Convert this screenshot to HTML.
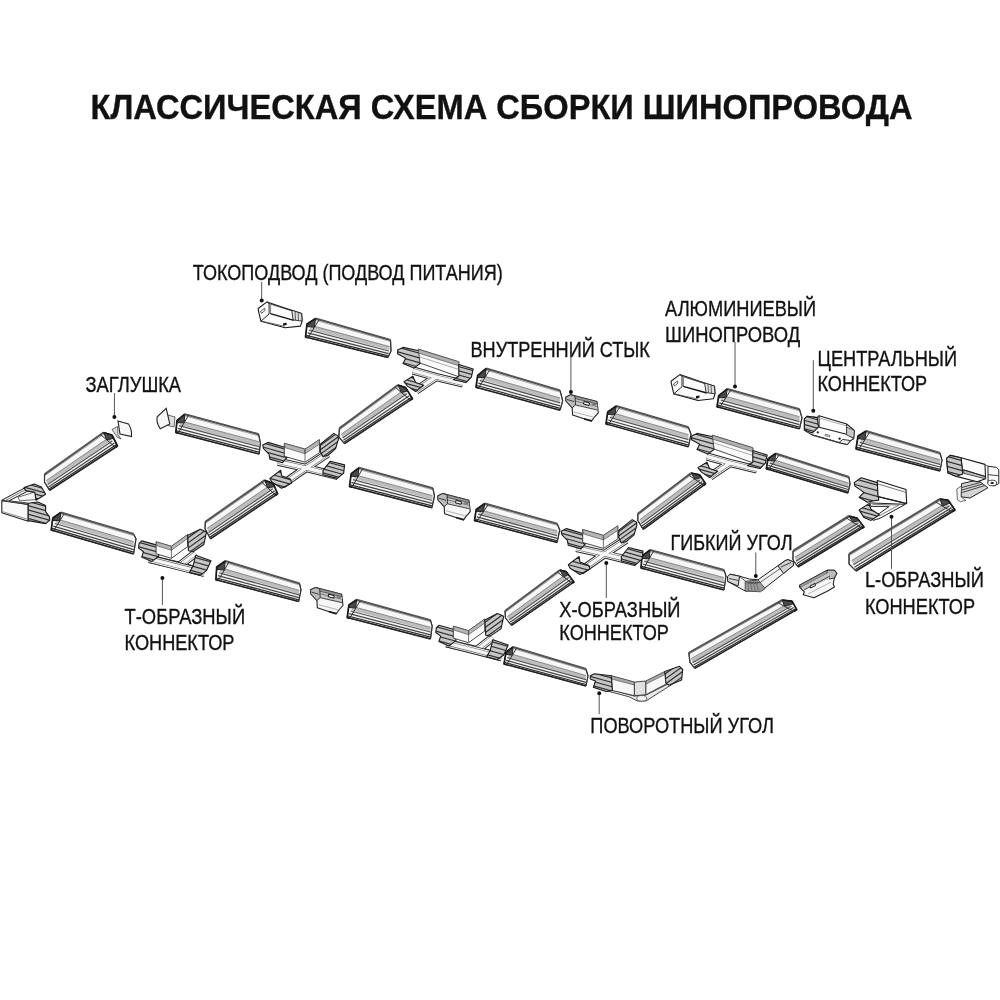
<!DOCTYPE html>
<html><head><meta charset="utf-8"><style>
html,body{margin:0;padding:0;background:#fff;}
svg{display:block;filter:grayscale(1);}
text{font-family:"Liberation Sans", sans-serif;fill:#111;stroke:#111;stroke-width:0.35px;}
</style></head><body>
<svg width="1000" height="1000" viewBox="0 0 1000 1000">
<rect width="1000" height="1000" fill="#fff"/>
<text x="90.5" y="118.5" textLength="822" lengthAdjust="spacingAndGlyphs" font-size="35" font-weight="bold">КЛАССИЧЕСКАЯ СХЕМА СБОРКИ ШИНОПРОВОДА</text>
<text x="192.8" y="279.7" textLength="310.0" lengthAdjust="spacingAndGlyphs" font-size="22.5" font-weight="normal">ТОКОПОДВОД (ПОДВОД ПИТАНИЯ)</text>
<text x="470.5" y="357.4" textLength="179.4" lengthAdjust="spacingAndGlyphs" font-size="22.5" font-weight="normal">ВНУТРЕННИЙ СТЫК</text>
<text x="665.1" y="315.9" textLength="151.0" lengthAdjust="spacingAndGlyphs" font-size="22.5" font-weight="normal">АЛЮМИНИЕВЫЙ</text>
<text x="665.1" y="341.9" textLength="135.0" lengthAdjust="spacingAndGlyphs" font-size="22.5" font-weight="normal">ШИНОПРОВОД</text>
<text x="817.5" y="365.7" textLength="139.5" lengthAdjust="spacingAndGlyphs" font-size="22.5" font-weight="normal">ЦЕНТРАЛЬНЫЙ</text>
<text x="817.5" y="391.2" textLength="109.7" lengthAdjust="spacingAndGlyphs" font-size="22.5" font-weight="normal">КОННЕКТОР</text>
<text x="85.5" y="392.3" textLength="95.6" lengthAdjust="spacingAndGlyphs" font-size="22.5" font-weight="normal">ЗАГЛУШКА</text>
<text x="124.5" y="624.3000000000001" textLength="120.6" lengthAdjust="spacingAndGlyphs" font-size="22.5" font-weight="normal">Т-ОБРАЗНЫЙ</text>
<text x="124.5" y="650.3000000000001" textLength="110.0" lengthAdjust="spacingAndGlyphs" font-size="22.5" font-weight="normal">КОННЕКТОР</text>
<text x="670.5" y="549.7" textLength="122.0" lengthAdjust="spacingAndGlyphs" font-size="22.5" font-weight="normal">ГИБКИЙ УГОЛ</text>
<text x="559.3" y="616.9000000000001" textLength="121.2" lengthAdjust="spacingAndGlyphs" font-size="22.5" font-weight="normal">Х-ОБРАЗНЫЙ</text>
<text x="559.3" y="640.3000000000001" textLength="109.6" lengthAdjust="spacingAndGlyphs" font-size="22.5" font-weight="normal">КОННЕКТОР</text>
<text x="864.9" y="587.1" textLength="119.0" lengthAdjust="spacingAndGlyphs" font-size="22.5" font-weight="normal">L-ОБРАЗНЫЙ</text>
<text x="864.9" y="613.5" textLength="110.2" lengthAdjust="spacingAndGlyphs" font-size="22.5" font-weight="normal">КОННЕКТОР</text>
<text x="590.3" y="733.1" textLength="183.6" lengthAdjust="spacingAndGlyphs" font-size="22.5" font-weight="normal">ПОВОРОТНЫЙ УГОЛ</text>
<polygon points="315.5,318.5 390.5,340.0 391.0,351.0 388.0,357.5 305.5,337.0 307.0,324.0" fill="#f7f7f7" stroke="#444" stroke-width="0.9" stroke-linejoin="round" />
<polygon points="311.7,325.5 389.6,346.6 389.1,350.1 309.7,329.2" fill="#bdbdbd" stroke="none" stroke-width="0" stroke-linejoin="round" />
<polyline points="311.7,325.5 389.6,346.6" fill="none" stroke="#777" stroke-width="0.8" stroke-linejoin="round"/>
<polyline points="309.2,330.2 388.9,351.0" fill="none" stroke="#555" stroke-width="1.25" stroke-linejoin="round"/>
<polyline points="307.7,332.9 388.6,353.6" fill="none" stroke="#444" stroke-width="1.25" stroke-linejoin="round"/>
<polyline points="306.4,335.3 388.2,355.9" fill="none" stroke="#2a2a2a" stroke-width="1.25" stroke-linejoin="round"/>
<polyline points="314.7,320.0 390.3,341.4" fill="none" stroke="#aaa" stroke-width="1.0" stroke-linejoin="round"/>
<polyline points="315.5,318.5 390.5,340.0" fill="none" stroke="#555" stroke-width="2.1" stroke-linejoin="round"/>
<polyline points="305.5,337.0 388.0,357.5" fill="none" stroke="#222" stroke-width="1.5" stroke-linejoin="round"/>
<polygon points="315.5,318.5 310.4,321.8 306.7,326.6 314.5,327.2" fill="#4a4a4a" stroke="#222" stroke-width="1.0" stroke-linejoin="round" />
<polyline points="315.5,318.5 307.0,324.0 305.5,337.0 308.0,337.6" fill="none" stroke="#1a1a1a" stroke-width="1.7" stroke-linejoin="round"/>
<polyline points="319.2,319.6 314.5,327.2 308.0,337.6" fill="none" stroke="#333" stroke-width="1.0" stroke-linejoin="round"/>
<polyline points="390.5,340.0 391.0,351.0 388.0,357.5" fill="none" stroke="#333" stroke-width="1.2" stroke-linejoin="round"/>
<polygon points="486.2,368.5 560.1,390.6 562.7,400.8 560.1,410.2 476.0,387.2 477.7,375.3" fill="#f7f7f7" stroke="#444" stroke-width="0.9" stroke-linejoin="round" />
<polygon points="482.3,375.6 560.1,398.0 560.1,402.0 480.3,379.3" fill="#bdbdbd" stroke="none" stroke-width="0" stroke-linejoin="round" />
<polyline points="482.3,375.6 560.1,398.0" fill="none" stroke="#777" stroke-width="0.8" stroke-linejoin="round"/>
<polyline points="479.8,380.3 560.1,402.9" fill="none" stroke="#555" stroke-width="1.25" stroke-linejoin="round"/>
<polyline points="478.2,383.1 560.1,405.9" fill="none" stroke="#444" stroke-width="1.25" stroke-linejoin="round"/>
<polyline points="476.9,385.5 560.1,408.4" fill="none" stroke="#2a2a2a" stroke-width="1.25" stroke-linejoin="round"/>
<polyline points="485.4,370.0 560.1,392.2" fill="none" stroke="#aaa" stroke-width="1.0" stroke-linejoin="round"/>
<polyline points="486.2,368.5 560.1,390.6" fill="none" stroke="#555" stroke-width="2.1" stroke-linejoin="round"/>
<polyline points="476.0,387.2 560.1,410.2" fill="none" stroke="#222" stroke-width="1.5" stroke-linejoin="round"/>
<polygon points="486.2,368.5 481.1,372.6 477.4,377.7 485.1,377.3" fill="#4a4a4a" stroke="#222" stroke-width="1.0" stroke-linejoin="round" />
<polyline points="486.2,368.5 477.7,375.3 476.0,387.2 478.5,387.9" fill="none" stroke="#1a1a1a" stroke-width="1.7" stroke-linejoin="round"/>
<polyline points="489.9,369.6 485.1,377.3 478.5,387.9" fill="none" stroke="#333" stroke-width="1.0" stroke-linejoin="round"/>
<polyline points="560.1,390.6 562.7,400.8 560.1,410.2" fill="none" stroke="#333" stroke-width="1.2" stroke-linejoin="round"/>
<polygon points="616.2,406.0 688.4,427.3 691.0,434.1 688.4,446.9 606.0,423.9 607.7,412.0" fill="#f7f7f7" stroke="#444" stroke-width="0.9" stroke-linejoin="round" />
<polygon points="612.3,412.8 688.4,434.7 688.4,438.7 610.3,416.4" fill="#bdbdbd" stroke="none" stroke-width="0" stroke-linejoin="round" />
<polyline points="612.3,412.8 688.4,434.7" fill="none" stroke="#777" stroke-width="0.8" stroke-linejoin="round"/>
<polyline points="609.8,417.3 688.4,439.6" fill="none" stroke="#555" stroke-width="1.25" stroke-linejoin="round"/>
<polyline points="608.2,420.0 688.4,442.6" fill="none" stroke="#444" stroke-width="1.25" stroke-linejoin="round"/>
<polyline points="606.9,422.3 688.4,445.1" fill="none" stroke="#2a2a2a" stroke-width="1.25" stroke-linejoin="round"/>
<polyline points="615.4,407.4 688.4,428.9" fill="none" stroke="#aaa" stroke-width="1.0" stroke-linejoin="round"/>
<polyline points="616.2,406.0 688.4,427.3" fill="none" stroke="#555" stroke-width="2.1" stroke-linejoin="round"/>
<polyline points="606.0,423.9 688.4,446.9" fill="none" stroke="#222" stroke-width="1.5" stroke-linejoin="round"/>
<polygon points="616.2,406.0 611.1,409.6 607.4,414.4 615.0,414.4" fill="#4a4a4a" stroke="#222" stroke-width="1.0" stroke-linejoin="round" />
<polyline points="616.2,406.0 607.7,412.0 606.0,423.9 608.5,424.6" fill="none" stroke="#1a1a1a" stroke-width="1.7" stroke-linejoin="round"/>
<polyline points="619.8,407.1 615.0,414.4 608.5,424.6" fill="none" stroke="#333" stroke-width="1.0" stroke-linejoin="round"/>
<polyline points="688.4,427.3 691.0,434.1 688.4,446.9" fill="none" stroke="#333" stroke-width="1.2" stroke-linejoin="round"/>
<polygon points="727.2,388.9 799.5,409.3 802.0,417.8 799.5,428.9 717.0,406.8 718.7,395.7" fill="#f7f7f7" stroke="#444" stroke-width="0.9" stroke-linejoin="round" />
<polygon points="723.3,395.7 799.5,416.7 799.5,420.7 721.3,399.3" fill="#bdbdbd" stroke="none" stroke-width="0" stroke-linejoin="round" />
<polyline points="723.3,395.7 799.5,416.7" fill="none" stroke="#777" stroke-width="0.8" stroke-linejoin="round"/>
<polyline points="720.8,400.2 799.5,421.6" fill="none" stroke="#555" stroke-width="1.25" stroke-linejoin="round"/>
<polyline points="719.2,402.9 799.5,424.6" fill="none" stroke="#444" stroke-width="1.25" stroke-linejoin="round"/>
<polyline points="717.9,405.2 799.5,427.1" fill="none" stroke="#2a2a2a" stroke-width="1.25" stroke-linejoin="round"/>
<polyline points="726.4,390.3 799.5,410.9" fill="none" stroke="#aaa" stroke-width="1.0" stroke-linejoin="round"/>
<polyline points="727.2,388.9 799.5,409.3" fill="none" stroke="#555" stroke-width="2.1" stroke-linejoin="round"/>
<polyline points="717.0,406.8 799.5,428.9" fill="none" stroke="#222" stroke-width="1.5" stroke-linejoin="round"/>
<polygon points="727.2,388.9 722.1,393.0 718.4,397.9 726.1,397.3" fill="#4a4a4a" stroke="#222" stroke-width="1.0" stroke-linejoin="round" />
<polyline points="727.2,388.9 718.7,395.7 717.0,406.8 719.5,407.5" fill="none" stroke="#1a1a1a" stroke-width="1.7" stroke-linejoin="round"/>
<polyline points="730.8,389.9 726.1,397.3 719.5,407.5" fill="none" stroke="#333" stroke-width="1.0" stroke-linejoin="round"/>
<polyline points="799.5,409.3 802.0,417.8 799.5,428.9" fill="none" stroke="#333" stroke-width="1.2" stroke-linejoin="round"/>
<polygon points="866.0,431.0 940.0,453.0 942.0,460.0 940.0,471.0 856.0,449.0 858.0,436.0" fill="#f7f7f7" stroke="#444" stroke-width="0.9" stroke-linejoin="round" />
<polygon points="862.2,437.8 940.0,459.8 940.0,463.4 860.2,441.4" fill="#bdbdbd" stroke="none" stroke-width="0" stroke-linejoin="round" />
<polyline points="862.2,437.8 940.0,459.8" fill="none" stroke="#777" stroke-width="0.8" stroke-linejoin="round"/>
<polyline points="859.7,442.3 940.0,464.3" fill="none" stroke="#555" stroke-width="1.25" stroke-linejoin="round"/>
<polyline points="858.2,445.0 940.0,467.0" fill="none" stroke="#444" stroke-width="1.25" stroke-linejoin="round"/>
<polyline points="856.9,447.4 940.0,469.4" fill="none" stroke="#2a2a2a" stroke-width="1.25" stroke-linejoin="round"/>
<polyline points="865.2,432.4 940.0,454.4" fill="none" stroke="#aaa" stroke-width="1.0" stroke-linejoin="round"/>
<polyline points="866.0,431.0 940.0,453.0" fill="none" stroke="#555" stroke-width="2.1" stroke-linejoin="round"/>
<polyline points="856.0,449.0 940.0,471.0" fill="none" stroke="#222" stroke-width="1.5" stroke-linejoin="round"/>
<polygon points="866.0,431.0 861.2,434.0 857.6,438.6 865.0,439.5" fill="#4a4a4a" stroke="#222" stroke-width="1.0" stroke-linejoin="round" />
<polyline points="866.0,431.0 858.0,436.0 856.0,449.0 858.5,449.7" fill="none" stroke="#1a1a1a" stroke-width="1.7" stroke-linejoin="round"/>
<polyline points="869.7,432.1 865.0,439.5 858.5,449.7" fill="none" stroke="#333" stroke-width="1.0" stroke-linejoin="round"/>
<polyline points="940.0,453.0 942.0,460.0 940.0,471.0" fill="none" stroke="#333" stroke-width="1.2" stroke-linejoin="round"/>
<polygon points="184.8,414.2 258.6,434.2 260.4,443.2 259.2,454.0 175.8,432.4 177.0,420.4" fill="#f7f7f7" stroke="#444" stroke-width="0.9" stroke-linejoin="round" />
<polygon points="181.4,421.1 258.8,441.7 258.9,445.7 179.6,424.8" fill="#bdbdbd" stroke="none" stroke-width="0" stroke-linejoin="round" />
<polyline points="181.4,421.1 258.8,441.7" fill="none" stroke="#777" stroke-width="0.8" stroke-linejoin="round"/>
<polyline points="179.1,425.7 259.0,446.7" fill="none" stroke="#555" stroke-width="1.25" stroke-linejoin="round"/>
<polyline points="177.8,428.4 259.1,449.6" fill="none" stroke="#444" stroke-width="1.25" stroke-linejoin="round"/>
<polyline points="176.6,430.8 259.1,452.2" fill="none" stroke="#2a2a2a" stroke-width="1.25" stroke-linejoin="round"/>
<polyline points="184.1,415.7 258.6,435.8" fill="none" stroke="#aaa" stroke-width="1.0" stroke-linejoin="round"/>
<polyline points="184.8,414.2 258.6,434.2" fill="none" stroke="#555" stroke-width="2.1" stroke-linejoin="round"/>
<polyline points="175.8,432.4 259.2,454.0" fill="none" stroke="#222" stroke-width="1.5" stroke-linejoin="round"/>
<polygon points="184.8,414.2 180.1,417.9 176.8,422.8 184.2,422.7" fill="#4a4a4a" stroke="#222" stroke-width="1.0" stroke-linejoin="round" />
<polyline points="184.8,414.2 177.0,420.4 175.8,432.4 178.3,433.0" fill="none" stroke="#1a1a1a" stroke-width="1.7" stroke-linejoin="round"/>
<polyline points="188.5,415.2 184.2,422.7 178.3,433.0" fill="none" stroke="#333" stroke-width="1.0" stroke-linejoin="round"/>
<polyline points="258.6,434.2 260.4,443.2 259.2,454.0" fill="none" stroke="#333" stroke-width="1.2" stroke-linejoin="round"/>
<polygon points="60.8,512.4 133.6,534.0 136.0,538.8 133.6,554.0 51.2,530.0 52.8,518.0" fill="#f7f7f7" stroke="#444" stroke-width="0.9" stroke-linejoin="round" />
<polygon points="57.2,519.1 133.6,541.6 133.6,545.6 55.2,522.6" fill="#bdbdbd" stroke="none" stroke-width="0" stroke-linejoin="round" />
<polyline points="57.2,519.1 133.6,541.6" fill="none" stroke="#777" stroke-width="0.8" stroke-linejoin="round"/>
<polyline points="54.8,523.5 133.6,546.6" fill="none" stroke="#555" stroke-width="1.25" stroke-linejoin="round"/>
<polyline points="53.3,526.1 133.6,549.6" fill="none" stroke="#444" stroke-width="1.25" stroke-linejoin="round"/>
<polyline points="52.1,528.4 133.6,552.2" fill="none" stroke="#2a2a2a" stroke-width="1.25" stroke-linejoin="round"/>
<polyline points="60.0,513.8 133.6,535.6" fill="none" stroke="#aaa" stroke-width="1.0" stroke-linejoin="round"/>
<polyline points="60.8,512.4 133.6,534.0" fill="none" stroke="#555" stroke-width="2.1" stroke-linejoin="round"/>
<polyline points="51.2,530.0 133.6,554.0" fill="none" stroke="#222" stroke-width="1.5" stroke-linejoin="round"/>
<polygon points="60.8,512.4 56.0,515.8 52.5,520.4 59.9,520.7" fill="#4a4a4a" stroke="#222" stroke-width="1.0" stroke-linejoin="round" />
<polyline points="60.8,512.4 52.8,518.0 51.2,530.0 53.7,530.7" fill="none" stroke="#1a1a1a" stroke-width="1.7" stroke-linejoin="round"/>
<polyline points="64.4,513.5 59.9,520.7 53.7,530.7" fill="none" stroke="#333" stroke-width="1.0" stroke-linejoin="round"/>
<polyline points="133.6,534.0 136.0,538.8 133.6,554.0" fill="none" stroke="#333" stroke-width="1.2" stroke-linejoin="round"/>
<polygon points="358.8,467.8 432.8,488.2 434.5,495.8 432.0,507.7 349.5,486.5 351.2,473.7" fill="#f7f7f7" stroke="#444" stroke-width="0.9" stroke-linejoin="round" />
<polygon points="355.3,474.9 432.5,495.6 432.3,499.5 353.4,478.6" fill="#bdbdbd" stroke="none" stroke-width="0" stroke-linejoin="round" />
<polyline points="355.3,474.9 432.5,495.6" fill="none" stroke="#777" stroke-width="0.8" stroke-linejoin="round"/>
<polyline points="352.9,479.6 432.3,500.5" fill="none" stroke="#555" stroke-width="1.25" stroke-linejoin="round"/>
<polyline points="351.5,482.4 432.2,503.4" fill="none" stroke="#444" stroke-width="1.25" stroke-linejoin="round"/>
<polyline points="350.3,484.8 432.1,505.9" fill="none" stroke="#2a2a2a" stroke-width="1.25" stroke-linejoin="round"/>
<polyline points="358.1,469.3 432.7,489.8" fill="none" stroke="#aaa" stroke-width="1.0" stroke-linejoin="round"/>
<polyline points="358.8,467.8 432.8,488.2" fill="none" stroke="#555" stroke-width="2.1" stroke-linejoin="round"/>
<polyline points="349.5,486.5 432.0,507.7" fill="none" stroke="#222" stroke-width="1.5" stroke-linejoin="round"/>
<polygon points="358.8,467.8 354.2,471.3 350.9,476.3 358.1,476.5" fill="#4a4a4a" stroke="#222" stroke-width="1.0" stroke-linejoin="round" />
<polyline points="358.8,467.8 351.2,473.7 349.5,486.5 352.0,487.1" fill="none" stroke="#1a1a1a" stroke-width="1.7" stroke-linejoin="round"/>
<polyline points="362.5,468.8 358.1,476.5 352.0,487.1" fill="none" stroke="#333" stroke-width="1.0" stroke-linejoin="round"/>
<polyline points="432.8,488.2 434.5,495.8 432.0,507.7" fill="none" stroke="#333" stroke-width="1.2" stroke-linejoin="round"/>
<polygon points="484.7,503.5 557.2,523.8 559.7,529.8 557.2,542.5 474.5,520.5 476.2,509.4" fill="#f7f7f7" stroke="#444" stroke-width="0.9" stroke-linejoin="round" />
<polygon points="480.8,510.0 557.2,530.9 557.2,534.6 478.8,513.4" fill="#bdbdbd" stroke="none" stroke-width="0" stroke-linejoin="round" />
<polyline points="480.8,510.0 557.2,530.9" fill="none" stroke="#777" stroke-width="0.8" stroke-linejoin="round"/>
<polyline points="478.3,514.2 557.2,535.6" fill="none" stroke="#555" stroke-width="1.25" stroke-linejoin="round"/>
<polyline points="476.7,516.8 557.2,538.4" fill="none" stroke="#444" stroke-width="1.25" stroke-linejoin="round"/>
<polyline points="475.4,519.0 557.2,540.8" fill="none" stroke="#2a2a2a" stroke-width="1.25" stroke-linejoin="round"/>
<polyline points="483.9,504.9 557.2,525.3" fill="none" stroke="#aaa" stroke-width="1.0" stroke-linejoin="round"/>
<polyline points="484.7,503.5 557.2,523.8" fill="none" stroke="#555" stroke-width="2.1" stroke-linejoin="round"/>
<polyline points="474.5,520.5 557.2,542.5" fill="none" stroke="#222" stroke-width="1.5" stroke-linejoin="round"/>
<polygon points="484.7,503.5 479.6,507.0 475.9,511.6 483.6,511.5" fill="#4a4a4a" stroke="#222" stroke-width="1.0" stroke-linejoin="round" />
<polyline points="484.7,503.5 476.2,509.4 474.5,520.5 477.0,521.2" fill="none" stroke="#1a1a1a" stroke-width="1.7" stroke-linejoin="round"/>
<polyline points="488.3,504.5 483.6,511.5 477.0,521.2" fill="none" stroke="#333" stroke-width="1.0" stroke-linejoin="round"/>
<polyline points="557.2,523.8 559.7,529.8 557.2,542.5" fill="none" stroke="#333" stroke-width="1.2" stroke-linejoin="round"/>
<polygon points="775.6,453.5 849.0,477.0 850.0,484.0 848.0,493.0 766.3,468.8 768.0,458.6" fill="#f7f7f7" stroke="#444" stroke-width="0.9" stroke-linejoin="round" />
<polygon points="772.1,459.3 848.6,483.1 848.4,486.3 770.2,462.4" fill="#bdbdbd" stroke="none" stroke-width="0" stroke-linejoin="round" />
<polyline points="772.1,459.3 848.6,483.1" fill="none" stroke="#777" stroke-width="0.8" stroke-linejoin="round"/>
<polyline points="769.7,463.1 848.4,487.1" fill="none" stroke="#555" stroke-width="1.25" stroke-linejoin="round"/>
<polyline points="768.3,465.4 848.2,489.5" fill="none" stroke="#444" stroke-width="1.25" stroke-linejoin="round"/>
<polyline points="767.1,467.4 848.1,491.6" fill="none" stroke="#2a2a2a" stroke-width="1.25" stroke-linejoin="round"/>
<polyline points="774.9,454.7 848.9,478.3" fill="none" stroke="#aaa" stroke-width="1.0" stroke-linejoin="round"/>
<polyline points="775.6,453.5 849.0,477.0" fill="none" stroke="#555" stroke-width="2.1" stroke-linejoin="round"/>
<polyline points="766.3,468.8 848.0,493.0" fill="none" stroke="#222" stroke-width="1.5" stroke-linejoin="round"/>
<polygon points="775.6,453.5 771.0,456.6 767.7,460.6 774.9,460.9" fill="#4a4a4a" stroke="#222" stroke-width="1.0" stroke-linejoin="round" />
<polyline points="775.6,453.5 768.0,458.6 766.3,468.8 768.8,469.5" fill="none" stroke="#1a1a1a" stroke-width="1.7" stroke-linejoin="round"/>
<polyline points="779.3,454.7 774.9,460.9 768.8,469.5" fill="none" stroke="#333" stroke-width="1.0" stroke-linejoin="round"/>
<polyline points="849.0,477.0 850.0,484.0 848.0,493.0" fill="none" stroke="#333" stroke-width="1.2" stroke-linejoin="round"/>
<polygon points="650.0,550.0 724.0,570.0 726.0,576.0 724.0,590.0 641.0,568.0 642.0,556.0" fill="#f7f7f7" stroke="#444" stroke-width="0.9" stroke-linejoin="round" />
<polygon points="646.6,556.8 724.0,577.6 724.0,581.6 644.8,560.4" fill="#bdbdbd" stroke="none" stroke-width="0" stroke-linejoin="round" />
<polyline points="646.6,556.8 724.0,577.6" fill="none" stroke="#777" stroke-width="0.8" stroke-linejoin="round"/>
<polyline points="644.3,561.3 724.0,582.6" fill="none" stroke="#555" stroke-width="1.25" stroke-linejoin="round"/>
<polyline points="643.0,564.0 724.0,585.6" fill="none" stroke="#444" stroke-width="1.25" stroke-linejoin="round"/>
<polyline points="641.8,566.4 724.0,588.2" fill="none" stroke="#2a2a2a" stroke-width="1.25" stroke-linejoin="round"/>
<polyline points="649.3,551.4 724.0,571.6" fill="none" stroke="#aaa" stroke-width="1.0" stroke-linejoin="round"/>
<polyline points="650.0,550.0 724.0,570.0" fill="none" stroke="#555" stroke-width="2.1" stroke-linejoin="round"/>
<polyline points="641.0,568.0 724.0,590.0" fill="none" stroke="#222" stroke-width="1.5" stroke-linejoin="round"/>
<polygon points="650.0,550.0 645.2,553.6 641.8,558.4 649.4,558.4" fill="#4a4a4a" stroke="#222" stroke-width="1.0" stroke-linejoin="round" />
<polyline points="650.0,550.0 642.0,556.0 641.0,568.0 643.5,568.7" fill="none" stroke="#1a1a1a" stroke-width="1.7" stroke-linejoin="round"/>
<polyline points="653.7,551.0 649.4,558.4 643.5,568.7" fill="none" stroke="#333" stroke-width="1.0" stroke-linejoin="round"/>
<polyline points="724.0,570.0 726.0,576.0 724.0,590.0" fill="none" stroke="#333" stroke-width="1.2" stroke-linejoin="round"/>
<polygon points="225.2,561.0 299.6,583.6 301.0,590.0 298.7,601.5 215.9,579.7 216.7,567.0" fill="#f7f7f7" stroke="#444" stroke-width="0.9" stroke-linejoin="round" />
<polygon points="221.7,568.1 299.3,590.4 299.1,594.0 219.8,571.8" fill="#bdbdbd" stroke="none" stroke-width="0" stroke-linejoin="round" />
<polyline points="221.7,568.1 299.3,590.4" fill="none" stroke="#777" stroke-width="0.8" stroke-linejoin="round"/>
<polyline points="219.3,572.8 299.0,594.9" fill="none" stroke="#555" stroke-width="1.25" stroke-linejoin="round"/>
<polyline points="217.9,575.6 298.9,597.6" fill="none" stroke="#444" stroke-width="1.25" stroke-linejoin="round"/>
<polyline points="216.7,578.0 298.8,599.9" fill="none" stroke="#2a2a2a" stroke-width="1.25" stroke-linejoin="round"/>
<polyline points="224.5,562.5 299.5,585.0" fill="none" stroke="#aaa" stroke-width="1.0" stroke-linejoin="round"/>
<polyline points="225.2,561.0 299.6,583.6" fill="none" stroke="#555" stroke-width="2.1" stroke-linejoin="round"/>
<polyline points="215.9,579.7 298.7,601.5" fill="none" stroke="#222" stroke-width="1.5" stroke-linejoin="round"/>
<polygon points="225.2,561.0 220.1,564.6 216.5,569.5 224.5,569.8" fill="#4a4a4a" stroke="#222" stroke-width="1.0" stroke-linejoin="round" />
<polyline points="225.2,561.0 216.7,567.0 215.9,579.7 218.4,580.4" fill="none" stroke="#1a1a1a" stroke-width="1.7" stroke-linejoin="round"/>
<polyline points="228.9,562.1 224.5,569.8 218.4,580.4" fill="none" stroke="#333" stroke-width="1.0" stroke-linejoin="round"/>
<polyline points="299.6,583.6 301.0,590.0 298.7,601.5" fill="none" stroke="#333" stroke-width="1.2" stroke-linejoin="round"/>
<polygon points="356.5,599.8 430.5,620.2 432.2,626.1 430.5,638.9 347.2,617.6 348.9,604.9" fill="#f7f7f7" stroke="#444" stroke-width="0.9" stroke-linejoin="round" />
<polygon points="353.0,606.6 430.5,627.3 430.5,631.0 351.1,610.1" fill="#bdbdbd" stroke="none" stroke-width="0" stroke-linejoin="round" />
<polyline points="353.0,606.6 430.5,627.3" fill="none" stroke="#777" stroke-width="0.8" stroke-linejoin="round"/>
<polyline points="350.6,611.0 430.5,632.0" fill="none" stroke="#555" stroke-width="1.25" stroke-linejoin="round"/>
<polyline points="349.2,613.7 430.5,634.8" fill="none" stroke="#444" stroke-width="1.25" stroke-linejoin="round"/>
<polyline points="348.0,616.0 430.5,637.2" fill="none" stroke="#2a2a2a" stroke-width="1.25" stroke-linejoin="round"/>
<polyline points="355.8,601.2 430.5,621.7" fill="none" stroke="#aaa" stroke-width="1.0" stroke-linejoin="round"/>
<polyline points="356.5,599.8 430.5,620.2" fill="none" stroke="#555" stroke-width="2.1" stroke-linejoin="round"/>
<polyline points="347.2,617.6 430.5,638.9" fill="none" stroke="#222" stroke-width="1.5" stroke-linejoin="round"/>
<polygon points="356.5,599.8 351.9,602.9 348.6,607.4 355.8,608.1" fill="#4a4a4a" stroke="#222" stroke-width="1.0" stroke-linejoin="round" />
<polyline points="356.5,599.8 348.9,604.9 347.2,617.6 349.7,618.2" fill="none" stroke="#1a1a1a" stroke-width="1.7" stroke-linejoin="round"/>
<polyline points="360.2,600.8 355.8,608.1 349.7,618.2" fill="none" stroke="#333" stroke-width="1.0" stroke-linejoin="round"/>
<polyline points="430.5,620.2 432.2,626.1 430.5,638.9" fill="none" stroke="#333" stroke-width="1.2" stroke-linejoin="round"/>
<polygon points="513.0,647.0 586.0,669.0 588.0,676.0 586.0,686.0 504.0,664.0 506.0,652.0" fill="#f7f7f7" stroke="#444" stroke-width="0.9" stroke-linejoin="round" />
<polygon points="509.6,653.5 586.0,675.5 586.0,678.9 507.8,656.9" fill="#bdbdbd" stroke="none" stroke-width="0" stroke-linejoin="round" />
<polyline points="509.6,653.5 586.0,675.5" fill="none" stroke="#777" stroke-width="0.8" stroke-linejoin="round"/>
<polyline points="507.3,657.7 586.0,679.7" fill="none" stroke="#555" stroke-width="1.25" stroke-linejoin="round"/>
<polyline points="506.0,660.3 586.0,682.3" fill="none" stroke="#444" stroke-width="1.25" stroke-linejoin="round"/>
<polyline points="504.8,662.5 586.0,684.5" fill="none" stroke="#2a2a2a" stroke-width="1.25" stroke-linejoin="round"/>
<polyline points="512.3,648.4 586.0,670.4" fill="none" stroke="#aaa" stroke-width="1.0" stroke-linejoin="round"/>
<polyline points="513.0,647.0 586.0,669.0" fill="none" stroke="#555" stroke-width="2.1" stroke-linejoin="round"/>
<polyline points="504.0,664.0 586.0,686.0" fill="none" stroke="#222" stroke-width="1.5" stroke-linejoin="round"/>
<polygon points="513.0,647.0 508.8,650.0 505.6,654.4 512.4,655.1" fill="#4a4a4a" stroke="#222" stroke-width="1.0" stroke-linejoin="round" />
<polyline points="513.0,647.0 506.0,652.0 504.0,664.0 506.5,664.7" fill="none" stroke="#1a1a1a" stroke-width="1.7" stroke-linejoin="round"/>
<polyline points="516.6,648.1 512.4,655.1 506.5,664.7" fill="none" stroke="#333" stroke-width="1.0" stroke-linejoin="round"/>
<polyline points="586.0,669.0 588.0,676.0 586.0,686.0" fill="none" stroke="#333" stroke-width="1.2" stroke-linejoin="round"/>
<polygon points="44.5,474.4 103.5,432.5 112.0,435.0 117.5,446.0 49.6,490.4 44.5,482.0" fill="#f7f7f7" stroke="#444" stroke-width="0.9" stroke-linejoin="round" />
<polygon points="46.4,480.5 108.8,437.6 111.6,440.3 47.5,483.7" fill="#bdbdbd" stroke="none" stroke-width="0" stroke-linejoin="round" />
<polyline points="46.4,480.5 108.8,437.6" fill="none" stroke="#777" stroke-width="0.8" stroke-linejoin="round"/>
<polyline points="47.7,484.5 112.3,441.0" fill="none" stroke="#555" stroke-width="1.25" stroke-linejoin="round"/>
<polyline points="48.5,486.9 114.4,443.0" fill="none" stroke="#444" stroke-width="1.25" stroke-linejoin="round"/>
<polyline points="49.1,489.0 116.2,444.8" fill="none" stroke="#2a2a2a" stroke-width="1.25" stroke-linejoin="round"/>
<polyline points="44.9,475.7 104.6,433.6" fill="none" stroke="#aaa" stroke-width="1.0" stroke-linejoin="round"/>
<polyline points="44.5,474.4 103.5,432.5" fill="none" stroke="#555" stroke-width="2.1" stroke-linejoin="round"/>
<polyline points="49.6,490.4 117.5,446.0" fill="none" stroke="#222" stroke-width="1.5" stroke-linejoin="round"/>
<polygon points="103.5,432.5 112.0,435.0 113.7,438.3 106.8,439.9" fill="#4a4a4a" stroke="#222" stroke-width="1.0" stroke-linejoin="round" />
<polyline points="103.5,432.5 112.0,435.0 117.5,446.0 115.5,447.3" fill="none" stroke="#1a1a1a" stroke-width="1.7" stroke-linejoin="round"/>
<polyline points="100.5,434.6 106.8,439.9 115.5,447.3" fill="none" stroke="#333" stroke-width="1.0" stroke-linejoin="round"/>
<polyline points="44.5,474.4 44.5,482.0 49.6,490.4" fill="none" stroke="#333" stroke-width="1.2" stroke-linejoin="round"/>
<polygon points="339.4,428.4 398.0,385.0 405.7,387.6 412.5,398.7 344.5,443.7 338.8,437.0" fill="#f7f7f7" stroke="#444" stroke-width="0.9" stroke-linejoin="round" />
<polygon points="341.3,434.2 403.5,390.2 406.4,392.9 342.4,437.3" fill="#bdbdbd" stroke="none" stroke-width="0" stroke-linejoin="round" />
<polyline points="341.3,434.2 403.5,390.2" fill="none" stroke="#777" stroke-width="0.8" stroke-linejoin="round"/>
<polyline points="342.6,438.0 407.1,393.6" fill="none" stroke="#555" stroke-width="1.25" stroke-linejoin="round"/>
<polyline points="343.4,440.3 409.3,395.7" fill="none" stroke="#444" stroke-width="1.25" stroke-linejoin="round"/>
<polyline points="344.0,442.3 411.2,397.5" fill="none" stroke="#2a2a2a" stroke-width="1.25" stroke-linejoin="round"/>
<polyline points="339.8,429.6 399.2,386.1" fill="none" stroke="#aaa" stroke-width="1.0" stroke-linejoin="round"/>
<polyline points="339.4,428.4 398.0,385.0" fill="none" stroke="#555" stroke-width="2.1" stroke-linejoin="round"/>
<polyline points="344.5,443.7 412.5,398.7" fill="none" stroke="#222" stroke-width="1.5" stroke-linejoin="round"/>
<polygon points="398.0,385.0 405.7,387.6 407.7,390.9 401.5,392.6" fill="#4a4a4a" stroke="#222" stroke-width="1.0" stroke-linejoin="round" />
<polyline points="398.0,385.0 405.7,387.6 412.5,398.7 410.5,400.1" fill="none" stroke="#1a1a1a" stroke-width="1.7" stroke-linejoin="round"/>
<polyline points="395.1,387.2 401.5,392.6 410.5,400.1" fill="none" stroke="#333" stroke-width="1.0" stroke-linejoin="round"/>
<polyline points="339.4,428.4 338.8,437.0 344.5,443.7" fill="none" stroke="#333" stroke-width="1.2" stroke-linejoin="round"/>
<polygon points="205.3,521.8 264.8,480.2 273.3,483.6 277.6,493.8 210.4,538.8 205.0,528.6" fill="#f7f7f7" stroke="#444" stroke-width="0.9" stroke-linejoin="round" />
<polygon points="207.2,528.3 269.7,485.4 272.2,488.1 208.3,531.7" fill="#bdbdbd" stroke="none" stroke-width="0" stroke-linejoin="round" />
<polyline points="207.2,528.3 269.7,485.4" fill="none" stroke="#777" stroke-width="0.8" stroke-linejoin="round"/>
<polyline points="208.5,532.5 272.9,488.8" fill="none" stroke="#555" stroke-width="1.25" stroke-linejoin="round"/>
<polyline points="209.3,535.1 274.8,490.8" fill="none" stroke="#444" stroke-width="1.25" stroke-linejoin="round"/>
<polyline points="209.9,537.3 276.4,492.6" fill="none" stroke="#2a2a2a" stroke-width="1.25" stroke-linejoin="round"/>
<polyline points="205.7,523.2 265.8,481.3" fill="none" stroke="#aaa" stroke-width="1.0" stroke-linejoin="round"/>
<polyline points="205.3,521.8 264.8,480.2" fill="none" stroke="#555" stroke-width="2.1" stroke-linejoin="round"/>
<polyline points="210.4,538.8 277.6,493.8" fill="none" stroke="#222" stroke-width="1.5" stroke-linejoin="round"/>
<polygon points="264.8,480.2 273.3,483.6 274.6,486.7 267.6,487.7" fill="#4a4a4a" stroke="#222" stroke-width="1.0" stroke-linejoin="round" />
<polyline points="264.8,480.2 273.3,483.6 277.6,493.8 275.6,495.2" fill="none" stroke="#1a1a1a" stroke-width="1.7" stroke-linejoin="round"/>
<polyline points="261.8,482.3 267.6,487.7 275.6,495.2" fill="none" stroke="#333" stroke-width="1.0" stroke-linejoin="round"/>
<polyline points="205.3,521.8 205.0,528.6 210.4,538.8" fill="none" stroke="#333" stroke-width="1.2" stroke-linejoin="round"/>
<polygon points="505.0,611.0 560.0,570.0 566.0,571.5 574.0,582.0 511.5,625.5 505.5,618.0" fill="#f7f7f7" stroke="#444" stroke-width="0.9" stroke-linejoin="round" />
<polygon points="507.5,616.5 565.3,574.6 568.1,577.0 508.8,619.4" fill="#bdbdbd" stroke="none" stroke-width="0" stroke-linejoin="round" />
<polyline points="507.5,616.5 565.3,574.6" fill="none" stroke="#777" stroke-width="0.8" stroke-linejoin="round"/>
<polyline points="509.1,620.1 568.8,577.6" fill="none" stroke="#555" stroke-width="1.25" stroke-linejoin="round"/>
<polyline points="510.1,622.3 570.9,579.4" fill="none" stroke="#444" stroke-width="1.25" stroke-linejoin="round"/>
<polyline points="510.9,624.2 572.7,580.9" fill="none" stroke="#2a2a2a" stroke-width="1.25" stroke-linejoin="round"/>
<polyline points="505.5,612.2 561.1,571.0" fill="none" stroke="#aaa" stroke-width="1.0" stroke-linejoin="round"/>
<polyline points="505.0,611.0 560.0,570.0" fill="none" stroke="#555" stroke-width="2.1" stroke-linejoin="round"/>
<polyline points="511.5,625.5 574.0,582.0" fill="none" stroke="#222" stroke-width="1.5" stroke-linejoin="round"/>
<polygon points="560.0,570.0 566.0,571.5 568.4,574.6 563.5,576.8" fill="#4a4a4a" stroke="#222" stroke-width="1.0" stroke-linejoin="round" />
<polyline points="560.0,570.0 566.0,571.5 574.0,582.0 572.1,583.3" fill="none" stroke="#1a1a1a" stroke-width="1.7" stroke-linejoin="round"/>
<polyline points="557.2,572.0 563.5,576.8 572.1,583.3" fill="none" stroke="#333" stroke-width="1.0" stroke-linejoin="round"/>
<polyline points="505.0,611.0 505.5,618.0 511.5,625.5" fill="none" stroke="#333" stroke-width="1.2" stroke-linejoin="round"/>
<polygon points="637.8,513.8 691.2,473.0 699.6,474.8 705.6,483.8 643.2,529.4 637.8,520.4" fill="#f7f7f7" stroke="#444" stroke-width="0.9" stroke-linejoin="round" />
<polygon points="639.9,519.7 696.7,477.1 699.6,479.3 640.9,522.8" fill="#bdbdbd" stroke="none" stroke-width="0" stroke-linejoin="round" />
<polyline points="639.9,519.7 696.7,477.1" fill="none" stroke="#777" stroke-width="0.8" stroke-linejoin="round"/>
<polyline points="641.2,523.6 700.3,479.8" fill="none" stroke="#555" stroke-width="1.25" stroke-linejoin="round"/>
<polyline points="642.0,526.0 702.4,481.4" fill="none" stroke="#444" stroke-width="1.25" stroke-linejoin="round"/>
<polyline points="642.7,528.0 704.3,482.8" fill="none" stroke="#2a2a2a" stroke-width="1.25" stroke-linejoin="round"/>
<polyline points="638.2,515.0 692.4,473.9" fill="none" stroke="#aaa" stroke-width="1.0" stroke-linejoin="round"/>
<polyline points="637.8,513.8 691.2,473.0" fill="none" stroke="#555" stroke-width="2.1" stroke-linejoin="round"/>
<polyline points="643.2,529.4 705.6,483.8" fill="none" stroke="#222" stroke-width="1.5" stroke-linejoin="round"/>
<polygon points="691.2,473.0 699.6,474.8 701.4,477.5 694.9,479.3" fill="#4a4a4a" stroke="#222" stroke-width="1.0" stroke-linejoin="round" />
<polyline points="691.2,473.0 699.6,474.8 705.6,483.8 703.7,485.2" fill="none" stroke="#1a1a1a" stroke-width="1.7" stroke-linejoin="round"/>
<polyline points="688.5,475.0 694.9,479.3 703.7,485.2" fill="none" stroke="#333" stroke-width="1.0" stroke-linejoin="round"/>
<polyline points="637.8,513.8 637.8,520.4 643.2,529.4" fill="none" stroke="#333" stroke-width="1.2" stroke-linejoin="round"/>
<polygon points="793.0,551.0 849.0,516.0 857.0,518.0 864.0,527.0 798.0,567.0 793.0,560.0" fill="#f7f7f7" stroke="#444" stroke-width="0.9" stroke-linejoin="round" />
<polygon points="794.9,557.1 854.7,520.2 857.7,522.4 795.9,560.3" fill="#bdbdbd" stroke="none" stroke-width="0" stroke-linejoin="round" />
<polyline points="794.9,557.1 854.7,520.2" fill="none" stroke="#777" stroke-width="0.8" stroke-linejoin="round"/>
<polyline points="796.1,561.1 858.5,522.9" fill="none" stroke="#555" stroke-width="1.25" stroke-linejoin="round"/>
<polyline points="796.9,563.5 860.7,524.6" fill="none" stroke="#444" stroke-width="1.25" stroke-linejoin="round"/>
<polyline points="797.5,565.6 862.6,526.0" fill="none" stroke="#2a2a2a" stroke-width="1.25" stroke-linejoin="round"/>
<polyline points="793.4,552.3 850.2,516.9" fill="none" stroke="#aaa" stroke-width="1.0" stroke-linejoin="round"/>
<polyline points="793.0,551.0 849.0,516.0" fill="none" stroke="#555" stroke-width="2.1" stroke-linejoin="round"/>
<polyline points="798.0,567.0 864.0,527.0" fill="none" stroke="#222" stroke-width="1.5" stroke-linejoin="round"/>
<polygon points="849.0,516.0 857.0,518.0 859.1,520.7 852.8,522.1" fill="#4a4a4a" stroke="#222" stroke-width="1.0" stroke-linejoin="round" />
<polyline points="849.0,516.0 857.0,518.0 864.0,527.0 862.0,528.2" fill="none" stroke="#1a1a1a" stroke-width="1.7" stroke-linejoin="round"/>
<polyline points="846.2,517.8 852.8,522.1 862.0,528.2" fill="none" stroke="#333" stroke-width="1.0" stroke-linejoin="round"/>
<polyline points="793.0,551.0 793.0,560.0 798.0,567.0" fill="none" stroke="#333" stroke-width="1.2" stroke-linejoin="round"/>
<polygon points="849.0,554.0 940.0,499.0 948.0,500.0 955.0,510.0 856.0,571.0 849.0,564.0" fill="#f7f7f7" stroke="#444" stroke-width="0.9" stroke-linejoin="round" />
<polygon points="851.7,560.5 945.7,503.2 948.7,505.4 853.1,563.9" fill="#bdbdbd" stroke="none" stroke-width="0" stroke-linejoin="round" />
<polyline points="851.7,560.5 945.7,503.2" fill="none" stroke="#777" stroke-width="0.8" stroke-linejoin="round"/>
<polyline points="853.4,564.7 949.5,505.9" fill="none" stroke="#555" stroke-width="1.25" stroke-linejoin="round"/>
<polyline points="854.5,567.3 951.7,507.6" fill="none" stroke="#444" stroke-width="1.25" stroke-linejoin="round"/>
<polyline points="855.4,569.5 953.6,509.0" fill="none" stroke="#2a2a2a" stroke-width="1.25" stroke-linejoin="round"/>
<polyline points="849.6,555.4 941.2,499.9" fill="none" stroke="#aaa" stroke-width="1.0" stroke-linejoin="round"/>
<polyline points="849.0,554.0 940.0,499.0" fill="none" stroke="#555" stroke-width="2.1" stroke-linejoin="round"/>
<polyline points="856.0,571.0 955.0,510.0" fill="none" stroke="#222" stroke-width="1.5" stroke-linejoin="round"/>
<polygon points="940.0,499.0 948.0,500.0 950.1,503.0 942.4,506.0" fill="#4a4a4a" stroke="#222" stroke-width="1.0" stroke-linejoin="round" />
<polyline points="940.0,499.0 948.0,500.0 955.0,510.0 952.0,511.8" fill="none" stroke="#1a1a1a" stroke-width="1.7" stroke-linejoin="round"/>
<polyline points="935.5,501.8 942.4,506.0 952.0,511.8" fill="none" stroke="#333" stroke-width="1.0" stroke-linejoin="round"/>
<polyline points="849.0,554.0 849.0,564.0 856.0,571.0" fill="none" stroke="#333" stroke-width="1.2" stroke-linejoin="round"/>
<polygon points="688.8,652.8 782.4,600.0 792.0,601.2 796.8,609.6 694.8,668.4 690.0,662.4" fill="#f7f7f7" stroke="#444" stroke-width="0.9" stroke-linejoin="round" />
<polygon points="691.1,658.7 787.9,603.6 790.8,605.6 692.3,661.8" fill="#bdbdbd" stroke="none" stroke-width="0" stroke-linejoin="round" />
<polyline points="691.1,658.7 787.9,603.6" fill="none" stroke="#777" stroke-width="0.8" stroke-linejoin="round"/>
<polyline points="692.6,662.6 791.5,606.0" fill="none" stroke="#555" stroke-width="1.25" stroke-linejoin="round"/>
<polyline points="693.5,665.0 793.6,607.5" fill="none" stroke="#444" stroke-width="1.25" stroke-linejoin="round"/>
<polyline points="694.3,667.0 795.5,608.7" fill="none" stroke="#2a2a2a" stroke-width="1.25" stroke-linejoin="round"/>
<polyline points="689.3,654.0 783.6,600.8" fill="none" stroke="#aaa" stroke-width="1.0" stroke-linejoin="round"/>
<polyline points="688.8,652.8 782.4,600.0" fill="none" stroke="#555" stroke-width="2.1" stroke-linejoin="round"/>
<polyline points="694.8,668.4 796.8,609.6" fill="none" stroke="#222" stroke-width="1.5" stroke-linejoin="round"/>
<polygon points="782.4,600.0 792.0,601.2 793.4,603.7 784.4,606.3" fill="#4a4a4a" stroke="#222" stroke-width="1.0" stroke-linejoin="round" />
<polyline points="782.4,600.0 792.0,601.2 796.8,609.6 793.7,611.4" fill="none" stroke="#1a1a1a" stroke-width="1.7" stroke-linejoin="round"/>
<polyline points="777.7,602.6 784.4,606.3 793.7,611.4" fill="none" stroke="#333" stroke-width="1.0" stroke-linejoin="round"/>
<polyline points="688.8,652.8 690.0,662.4 694.8,668.4" fill="none" stroke="#333" stroke-width="1.2" stroke-linejoin="round"/>
<path d="M306.0,468.0 L278.0,461.6 M306.0,468.0 L338.0,476.0 M306.0,468.0 L327.6,453.6 M306.0,468.0 L282.0,484.8" stroke="#2a2a2a" stroke-width="8.4" stroke-linecap="butt" fill="none"/>
<path d="M306.0,468.0 L278.0,461.6 M306.0,468.0 L338.0,476.0 M306.0,468.0 L327.6,453.6 M306.0,468.0 L282.0,484.8" stroke="#fbfbfb" stroke-width="6.4" stroke-linecap="butt" fill="none"/>
<path d="M306.0,468.0 L278.0,461.6 M306.0,468.0 L338.0,476.0 M306.0,468.0 L327.6,453.6 M306.0,468.0 L282.0,484.8" stroke="#666" stroke-width="4.6" stroke-linecap="butt" fill="none"/>
<path d="M306.0,468.0 L278.0,461.6 M306.0,468.0 L338.0,476.0 M306.0,468.0 L327.6,453.6 M306.0,468.0 L282.0,484.8" stroke="#f6f6f6" stroke-width="3.4" stroke-linecap="butt" fill="none"/>
<clipPath id="c1"><polygon points="262.7,445.1 268.1,442.4 286.1,447.8 287.0,457.7 282.5,462.7 269.9,459.1 269.0,454.1 263.6,448.7"/></clipPath>
<polygon points="262.7,445.1 268.1,442.4 286.1,447.8 287.0,457.7 282.5,462.7 269.9,459.1 269.0,454.1 263.6,448.7" fill="#c6c6c6" stroke="none" stroke-width="0" stroke-linejoin="round" />
<g clip-path="url(#c1)"><line x1="236.7" y1="435.6" x2="313.7" y2="457.2" stroke="#2e2e2e" stroke-width="1.15"/><line x1="235.7" y1="439.4" x2="312.7" y2="461.0" stroke="#2e2e2e" stroke-width="1.15"/><line x1="234.6" y1="443.2" x2="311.6" y2="464.8" stroke="#2e2e2e" stroke-width="1.15"/><line x1="233.5" y1="447.0" x2="310.6" y2="468.5" stroke="#2e2e2e" stroke-width="1.15"/></g>
<polygon points="262.7,445.1 268.1,442.4 286.1,447.8 287.0,457.7 282.5,462.7 269.9,459.1 269.0,454.1 263.6,448.7" fill="none" stroke="#1a1a1a" stroke-width="1.1" stroke-linejoin="round" />
<polygon points="284.3,443.3 305.0,449.2 319.4,439.7 319.4,452.7 305.0,462.2 284.3,456.3" fill="#fafafa" stroke="#333" stroke-width="0.9" stroke-linejoin="round" />
<polygon points="284.3,443.3 305.0,449.2 305.0,453.7 285.3,447.8" fill="#b5b5b5" stroke="#444" stroke-width="0.6" stroke-linejoin="round" />
<polygon points="305.0,449.2 319.4,439.7 319.4,444.2 305.0,453.7" fill="#b5b5b5" stroke="#444" stroke-width="0.6" stroke-linejoin="round" />
<polyline points="305.0,449.2 305.0,462.2" fill="none" stroke="#555" stroke-width="0.8" stroke-linejoin="round"/>
<clipPath id="c2"><polygon points="320.3,444.2 333.8,433.4 338.3,436.1 338.3,439.7 335.6,448.7 328.4,455.0 323.0,456.8 320.3,451.4"/></clipPath>
<polygon points="320.3,444.2 333.8,433.4 338.3,436.1 338.3,439.7 335.6,448.7 328.4,455.0 323.0,456.8 320.3,451.4" fill="#c6c6c6" stroke="none" stroke-width="0" stroke-linejoin="round" />
<g clip-path="url(#c2)"><line x1="293.9" y1="464.3" x2="358.8" y2="417.6" stroke="#2e2e2e" stroke-width="1.15"/><line x1="296.0" y1="467.3" x2="360.9" y2="420.5" stroke="#2e2e2e" stroke-width="1.15"/><line x1="298.1" y1="470.2" x2="363.0" y2="423.4" stroke="#2e2e2e" stroke-width="1.15"/><line x1="300.2" y1="473.1" x2="365.1" y2="426.3" stroke="#2e2e2e" stroke-width="1.15"/></g>
<polygon points="320.3,444.2 333.8,433.4 338.3,436.1 338.3,439.7 335.6,448.7 328.4,455.0 323.0,456.8 320.3,451.4" fill="none" stroke="#1a1a1a" stroke-width="1.1" stroke-linejoin="round" />
<clipPath id="c3"><polygon points="330.2,461.3 344.6,464.9 343.7,473.0 337.4,478.4 323.0,474.8 323.0,470.3"/></clipPath>
<polygon points="330.2,461.3 344.6,464.9 343.7,473.0 337.4,478.4 323.0,474.8 323.0,470.3" fill="#c6c6c6" stroke="none" stroke-width="0" stroke-linejoin="round" />
<g clip-path="url(#c3)"><line x1="296.9" y1="453.5" x2="373.9" y2="475.1" stroke="#2e2e2e" stroke-width="1.15"/><line x1="295.8" y1="457.2" x2="372.9" y2="478.8" stroke="#2e2e2e" stroke-width="1.15"/><line x1="294.8" y1="460.9" x2="371.8" y2="482.5" stroke="#2e2e2e" stroke-width="1.15"/><line x1="293.7" y1="464.6" x2="370.8" y2="486.2" stroke="#2e2e2e" stroke-width="1.15"/></g>
<polygon points="330.2,461.3 344.6,464.9 343.7,473.0 337.4,478.4 323.0,474.8 323.0,470.3" fill="none" stroke="#1a1a1a" stroke-width="1.1" stroke-linejoin="round" />
<clipPath id="c4"><polygon points="269.9,478.4 280.7,470.3 281.6,475.7 290.6,479.3 291.5,482.9 281.6,488.3 271.7,482.0"/></clipPath>
<polygon points="269.9,478.4 280.7,470.3 281.6,475.7 290.6,479.3 291.5,482.9 281.6,488.3 271.7,482.0" fill="#c6c6c6" stroke="none" stroke-width="0" stroke-linejoin="round" />
<g clip-path="url(#c4)"><line x1="244.4" y1="462.3" x2="321.4" y2="483.9" stroke="#2e2e2e" stroke-width="1.15"/><line x1="243.2" y1="466.5" x2="320.3" y2="488.0" stroke="#2e2e2e" stroke-width="1.15"/><line x1="242.1" y1="470.6" x2="319.1" y2="492.1" stroke="#2e2e2e" stroke-width="1.15"/><line x1="240.9" y1="474.7" x2="317.9" y2="496.3" stroke="#2e2e2e" stroke-width="1.15"/></g>
<polygon points="269.9,478.4 280.7,470.3 281.6,475.7 290.6,479.3 291.5,482.9 281.6,488.3 271.7,482.0" fill="none" stroke="#1a1a1a" stroke-width="1.1" stroke-linejoin="round" />
<path d="M604.4,554.2 L576.4,547.8 M604.4,554.2 L636.4,562.2 M604.4,554.2 L626.0,539.8 M604.4,554.2 L580.4,571.0" stroke="#2a2a2a" stroke-width="8.4" stroke-linecap="butt" fill="none"/>
<path d="M604.4,554.2 L576.4,547.8 M604.4,554.2 L636.4,562.2 M604.4,554.2 L626.0,539.8 M604.4,554.2 L580.4,571.0" stroke="#fbfbfb" stroke-width="6.4" stroke-linecap="butt" fill="none"/>
<path d="M604.4,554.2 L576.4,547.8 M604.4,554.2 L636.4,562.2 M604.4,554.2 L626.0,539.8 M604.4,554.2 L580.4,571.0" stroke="#666" stroke-width="4.6" stroke-linecap="butt" fill="none"/>
<path d="M604.4,554.2 L576.4,547.8 M604.4,554.2 L636.4,562.2 M604.4,554.2 L626.0,539.8 M604.4,554.2 L580.4,571.0" stroke="#f6f6f6" stroke-width="3.4" stroke-linecap="butt" fill="none"/>
<clipPath id="c5"><polygon points="561.1,531.3 566.5,528.6 584.5,534.0 585.4,543.9 580.9,548.9 568.3,545.3 567.4,540.3 562.0,534.9"/></clipPath>
<polygon points="561.1,531.3 566.5,528.6 584.5,534.0 585.4,543.9 580.9,548.9 568.3,545.3 567.4,540.3 562.0,534.9" fill="#c6c6c6" stroke="none" stroke-width="0" stroke-linejoin="round" />
<g clip-path="url(#c5)"><line x1="535.1" y1="521.8" x2="612.1" y2="543.4" stroke="#2e2e2e" stroke-width="1.15"/><line x1="534.1" y1="525.6" x2="611.1" y2="547.2" stroke="#2e2e2e" stroke-width="1.15"/><line x1="533.0" y1="529.4" x2="610.0" y2="551.0" stroke="#2e2e2e" stroke-width="1.15"/><line x1="531.9" y1="533.2" x2="609.0" y2="554.7" stroke="#2e2e2e" stroke-width="1.15"/></g>
<polygon points="561.1,531.3 566.5,528.6 584.5,534.0 585.4,543.9 580.9,548.9 568.3,545.3 567.4,540.3 562.0,534.9" fill="none" stroke="#1a1a1a" stroke-width="1.1" stroke-linejoin="round" />
<polygon points="582.7,529.5 603.4,535.4 617.8,525.9 617.8,538.9 603.4,548.4 582.7,542.5" fill="#fafafa" stroke="#333" stroke-width="0.9" stroke-linejoin="round" />
<polygon points="582.7,529.5 603.4,535.4 603.4,539.9 583.7,534.0" fill="#b5b5b5" stroke="#444" stroke-width="0.6" stroke-linejoin="round" />
<polygon points="603.4,535.4 617.8,525.9 617.8,530.4 603.4,539.9" fill="#b5b5b5" stroke="#444" stroke-width="0.6" stroke-linejoin="round" />
<polyline points="603.4,535.4 603.4,548.4" fill="none" stroke="#555" stroke-width="0.8" stroke-linejoin="round"/>
<clipPath id="c6"><polygon points="618.7,530.4 632.2,519.6 636.7,522.3 636.7,525.9 634.0,534.9 626.8,541.2 621.4,543.0 618.7,537.6"/></clipPath>
<polygon points="618.7,530.4 632.2,519.6 636.7,522.3 636.7,525.9 634.0,534.9 626.8,541.2 621.4,543.0 618.7,537.6" fill="#c6c6c6" stroke="none" stroke-width="0" stroke-linejoin="round" />
<g clip-path="url(#c6)"><line x1="592.3" y1="550.5" x2="657.2" y2="503.8" stroke="#2e2e2e" stroke-width="1.15"/><line x1="594.4" y1="553.5" x2="659.3" y2="506.7" stroke="#2e2e2e" stroke-width="1.15"/><line x1="596.5" y1="556.4" x2="661.4" y2="509.6" stroke="#2e2e2e" stroke-width="1.15"/><line x1="598.6" y1="559.3" x2="663.5" y2="512.5" stroke="#2e2e2e" stroke-width="1.15"/></g>
<polygon points="618.7,530.4 632.2,519.6 636.7,522.3 636.7,525.9 634.0,534.9 626.8,541.2 621.4,543.0 618.7,537.6" fill="none" stroke="#1a1a1a" stroke-width="1.1" stroke-linejoin="round" />
<clipPath id="c7"><polygon points="628.6,547.5 643.0,551.1 642.1,559.2 635.8,564.6 621.4,561.0 621.4,556.5"/></clipPath>
<polygon points="628.6,547.5 643.0,551.1 642.1,559.2 635.8,564.6 621.4,561.0 621.4,556.5" fill="#c6c6c6" stroke="none" stroke-width="0" stroke-linejoin="round" />
<g clip-path="url(#c7)"><line x1="595.3" y1="539.7" x2="672.3" y2="561.3" stroke="#2e2e2e" stroke-width="1.15"/><line x1="594.2" y1="543.4" x2="671.3" y2="565.0" stroke="#2e2e2e" stroke-width="1.15"/><line x1="593.2" y1="547.1" x2="670.2" y2="568.7" stroke="#2e2e2e" stroke-width="1.15"/><line x1="592.1" y1="550.8" x2="669.2" y2="572.4" stroke="#2e2e2e" stroke-width="1.15"/></g>
<polygon points="628.6,547.5 643.0,551.1 642.1,559.2 635.8,564.6 621.4,561.0 621.4,556.5" fill="none" stroke="#1a1a1a" stroke-width="1.1" stroke-linejoin="round" />
<clipPath id="c8"><polygon points="568.3,564.6 579.1,556.5 580.0,561.9 589.0,565.5 589.9,569.1 580.0,574.5 570.1,568.2"/></clipPath>
<polygon points="568.3,564.6 579.1,556.5 580.0,561.9 589.0,565.5 589.9,569.1 580.0,574.5 570.1,568.2" fill="#c6c6c6" stroke="none" stroke-width="0" stroke-linejoin="round" />
<g clip-path="url(#c8)"><line x1="542.8" y1="548.5" x2="619.8" y2="570.1" stroke="#2e2e2e" stroke-width="1.15"/><line x1="541.6" y1="552.7" x2="618.7" y2="574.2" stroke="#2e2e2e" stroke-width="1.15"/><line x1="540.5" y1="556.8" x2="617.5" y2="578.3" stroke="#2e2e2e" stroke-width="1.15"/><line x1="539.3" y1="560.9" x2="616.3" y2="582.5" stroke="#2e2e2e" stroke-width="1.15"/></g>
<polygon points="568.3,564.6 579.1,556.5 580.0,561.9 589.0,565.5 589.9,569.1 580.0,574.5 570.1,568.2" fill="none" stroke="#1a1a1a" stroke-width="1.1" stroke-linejoin="round" />
<path d="M179.4,565.8 L149.4,558.8 M179.4,565.8 L204.4,572.8 M179.4,565.8 L195.4,553.3" stroke="#2a2a2a" stroke-width="8.4" stroke-linecap="butt" fill="none"/>
<path d="M179.4,565.8 L149.4,558.8 M179.4,565.8 L204.4,572.8 M179.4,565.8 L195.4,553.3" stroke="#fbfbfb" stroke-width="6.4" stroke-linecap="butt" fill="none"/>
<path d="M179.4,565.8 L149.4,558.8 M179.4,565.8 L204.4,572.8 M179.4,565.8 L195.4,553.3" stroke="#666" stroke-width="4.6" stroke-linecap="butt" fill="none"/>
<path d="M179.4,565.8 L149.4,558.8 M179.4,565.8 L204.4,572.8 M179.4,565.8 L195.4,553.3" stroke="#f6f6f6" stroke-width="3.4" stroke-linecap="butt" fill="none"/>
<path d="M149.4,558.8 L204.4,572.8" stroke="#2a2a2a" stroke-width="8.4" stroke-linecap="butt" fill="none"/>
<path d="M149.4,558.8 L204.4,572.8" stroke="#fbfbfb" stroke-width="6.4" stroke-linecap="butt" fill="none"/>
<path d="M149.4,558.8 L204.4,572.8" stroke="#666" stroke-width="4.6" stroke-linecap="butt" fill="none"/>
<path d="M149.4,558.8 L204.4,572.8" stroke="#f6f6f6" stroke-width="3.4" stroke-linecap="butt" fill="none"/>
<clipPath id="c9"><polygon points="139.0,543.6 141.7,540.9 157.9,545.4 158.8,556.2 151.6,561.6 141.7,557.1 143.5,551.7 138.6,548.1"/></clipPath>
<polygon points="139.0,543.6 141.7,540.9 157.9,545.4 158.8,556.2 151.6,561.6 141.7,557.1 143.5,551.7 138.6,548.1" fill="#c6c6c6" stroke="none" stroke-width="0" stroke-linejoin="round" />
<g clip-path="url(#c9)"><line x1="109.7" y1="534.1" x2="186.7" y2="555.7" stroke="#2e2e2e" stroke-width="1.15"/><line x1="108.5" y1="538.3" x2="185.5" y2="559.9" stroke="#2e2e2e" stroke-width="1.15"/><line x1="107.3" y1="542.5" x2="184.4" y2="564.0" stroke="#2e2e2e" stroke-width="1.15"/><line x1="106.2" y1="546.6" x2="183.2" y2="568.2" stroke="#2e2e2e" stroke-width="1.15"/></g>
<polygon points="139.0,543.6 141.7,540.9 157.9,545.4 158.8,556.2 151.6,561.6 141.7,557.1 143.5,551.7 138.6,548.1" fill="none" stroke="#1a1a1a" stroke-width="1.1" stroke-linejoin="round" />
<polygon points="156.1,541.8 171.4,546.3 187.6,534.6 187.6,546.6 171.4,558.3 156.1,553.8" fill="#fafafa" stroke="#333" stroke-width="0.9" stroke-linejoin="round" />
<polygon points="156.1,541.8 171.4,546.3 171.4,550.3 157.1,545.8" fill="#b5b5b5" stroke="#444" stroke-width="0.6" stroke-linejoin="round" />
<polygon points="171.4,546.3 187.6,534.6 187.6,538.6 171.4,550.3" fill="#b5b5b5" stroke="#444" stroke-width="0.6" stroke-linejoin="round" />
<polyline points="171.4,546.3 171.4,558.3" fill="none" stroke="#555" stroke-width="0.8" stroke-linejoin="round"/>
<clipPath id="c10"><polygon points="187.6,535.5 200.2,529.2 206.5,531.9 203.8,544.5 193.0,551.7 188.5,550.8"/></clipPath>
<polygon points="187.6,535.5 200.2,529.2 206.5,531.9 203.8,544.5 193.0,551.7 188.5,550.8" fill="#c6c6c6" stroke="none" stroke-width="0" stroke-linejoin="round" />
<g clip-path="url(#c10)"><line x1="159.9" y1="558.0" x2="224.8" y2="511.3" stroke="#2e2e2e" stroke-width="1.15"/><line x1="162.3" y1="561.4" x2="227.2" y2="514.7" stroke="#2e2e2e" stroke-width="1.15"/><line x1="164.8" y1="564.9" x2="229.7" y2="518.1" stroke="#2e2e2e" stroke-width="1.15"/><line x1="167.2" y1="568.3" x2="232.1" y2="521.5" stroke="#2e2e2e" stroke-width="1.15"/></g>
<polygon points="187.6,535.5 200.2,529.2 206.5,531.9 203.8,544.5 193.0,551.7 188.5,550.8" fill="none" stroke="#1a1a1a" stroke-width="1.1" stroke-linejoin="round" />
<clipPath id="c11"><polygon points="195.7,555.3 211.0,560.7 206.5,570.6 200.2,575.1 189.4,572.4 193.0,566.1"/></clipPath>
<polygon points="195.7,555.3 211.0,560.7 206.5,570.6 200.2,575.1 189.4,572.4 193.0,566.1" fill="#c6c6c6" stroke="none" stroke-width="0" stroke-linejoin="round" />
<g clip-path="url(#c11)"><line x1="162.9" y1="548.5" x2="239.9" y2="570.0" stroke="#2e2e2e" stroke-width="1.15"/><line x1="161.6" y1="552.8" x2="238.7" y2="574.4" stroke="#2e2e2e" stroke-width="1.15"/><line x1="160.4" y1="557.2" x2="237.5" y2="578.8" stroke="#2e2e2e" stroke-width="1.15"/><line x1="159.2" y1="561.6" x2="236.2" y2="583.2" stroke="#2e2e2e" stroke-width="1.15"/></g>
<polygon points="195.7,555.3 211.0,560.7 206.5,570.6 200.2,575.1 189.4,572.4 193.0,566.1" fill="none" stroke="#1a1a1a" stroke-width="1.1" stroke-linejoin="round" />
<path d="M476.6,650.2 L446.6,643.2 M476.6,650.2 L501.6,657.2 M476.6,650.2 L492.6,637.7" stroke="#2a2a2a" stroke-width="8.4" stroke-linecap="butt" fill="none"/>
<path d="M476.6,650.2 L446.6,643.2 M476.6,650.2 L501.6,657.2 M476.6,650.2 L492.6,637.7" stroke="#fbfbfb" stroke-width="6.4" stroke-linecap="butt" fill="none"/>
<path d="M476.6,650.2 L446.6,643.2 M476.6,650.2 L501.6,657.2 M476.6,650.2 L492.6,637.7" stroke="#666" stroke-width="4.6" stroke-linecap="butt" fill="none"/>
<path d="M476.6,650.2 L446.6,643.2 M476.6,650.2 L501.6,657.2 M476.6,650.2 L492.6,637.7" stroke="#f6f6f6" stroke-width="3.4" stroke-linecap="butt" fill="none"/>
<path d="M446.6,643.2 L501.6,657.2" stroke="#2a2a2a" stroke-width="8.4" stroke-linecap="butt" fill="none"/>
<path d="M446.6,643.2 L501.6,657.2" stroke="#fbfbfb" stroke-width="6.4" stroke-linecap="butt" fill="none"/>
<path d="M446.6,643.2 L501.6,657.2" stroke="#666" stroke-width="4.6" stroke-linecap="butt" fill="none"/>
<path d="M446.6,643.2 L501.6,657.2" stroke="#f6f6f6" stroke-width="3.4" stroke-linecap="butt" fill="none"/>
<clipPath id="c12"><polygon points="436.2,628.0 438.9,625.3 455.1,629.8 456.0,640.6 448.8,646.0 438.9,641.5 440.7,636.1 435.8,632.5"/></clipPath>
<polygon points="436.2,628.0 438.9,625.3 455.1,629.8 456.0,640.6 448.8,646.0 438.9,641.5 440.7,636.1 435.8,632.5" fill="#c6c6c6" stroke="none" stroke-width="0" stroke-linejoin="round" />
<g clip-path="url(#c12)"><line x1="406.9" y1="618.5" x2="483.9" y2="640.1" stroke="#2e2e2e" stroke-width="1.15"/><line x1="405.7" y1="622.7" x2="482.7" y2="644.3" stroke="#2e2e2e" stroke-width="1.15"/><line x1="404.5" y1="626.9" x2="481.6" y2="648.4" stroke="#2e2e2e" stroke-width="1.15"/><line x1="403.4" y1="631.0" x2="480.4" y2="652.6" stroke="#2e2e2e" stroke-width="1.15"/></g>
<polygon points="436.2,628.0 438.9,625.3 455.1,629.8 456.0,640.6 448.8,646.0 438.9,641.5 440.7,636.1 435.8,632.5" fill="none" stroke="#1a1a1a" stroke-width="1.1" stroke-linejoin="round" />
<polygon points="453.3,626.2 468.6,630.7 484.8,619.0 484.8,631.0 468.6,642.7 453.3,638.2" fill="#fafafa" stroke="#333" stroke-width="0.9" stroke-linejoin="round" />
<polygon points="453.3,626.2 468.6,630.7 468.6,634.7 454.3,630.2" fill="#b5b5b5" stroke="#444" stroke-width="0.6" stroke-linejoin="round" />
<polygon points="468.6,630.7 484.8,619.0 484.8,623.0 468.6,634.7" fill="#b5b5b5" stroke="#444" stroke-width="0.6" stroke-linejoin="round" />
<polyline points="468.6,630.7 468.6,642.7" fill="none" stroke="#555" stroke-width="0.8" stroke-linejoin="round"/>
<clipPath id="c13"><polygon points="484.8,619.9 497.4,613.6 503.7,616.3 501.0,628.9 490.2,636.1 485.7,635.2"/></clipPath>
<polygon points="484.8,619.9 497.4,613.6 503.7,616.3 501.0,628.9 490.2,636.1 485.7,635.2" fill="#c6c6c6" stroke="none" stroke-width="0" stroke-linejoin="round" />
<g clip-path="url(#c13)"><line x1="457.1" y1="642.4" x2="522.0" y2="595.7" stroke="#2e2e2e" stroke-width="1.15"/><line x1="459.5" y1="645.8" x2="524.4" y2="599.1" stroke="#2e2e2e" stroke-width="1.15"/><line x1="462.0" y1="649.3" x2="526.9" y2="602.5" stroke="#2e2e2e" stroke-width="1.15"/><line x1="464.4" y1="652.7" x2="529.3" y2="605.9" stroke="#2e2e2e" stroke-width="1.15"/></g>
<polygon points="484.8,619.9 497.4,613.6 503.7,616.3 501.0,628.9 490.2,636.1 485.7,635.2" fill="none" stroke="#1a1a1a" stroke-width="1.1" stroke-linejoin="round" />
<clipPath id="c14"><polygon points="492.9,639.7 508.2,645.1 503.7,655.0 497.4,659.5 486.6,656.8 490.2,650.5"/></clipPath>
<polygon points="492.9,639.7 508.2,645.1 503.7,655.0 497.4,659.5 486.6,656.8 490.2,650.5" fill="#c6c6c6" stroke="none" stroke-width="0" stroke-linejoin="round" />
<g clip-path="url(#c14)"><line x1="460.1" y1="632.9" x2="537.1" y2="654.4" stroke="#2e2e2e" stroke-width="1.15"/><line x1="458.8" y1="637.2" x2="535.9" y2="658.8" stroke="#2e2e2e" stroke-width="1.15"/><line x1="457.6" y1="641.6" x2="534.7" y2="663.2" stroke="#2e2e2e" stroke-width="1.15"/><line x1="456.4" y1="646.0" x2="533.4" y2="667.6" stroke="#2e2e2e" stroke-width="1.15"/></g>
<polygon points="492.9,639.7 508.2,645.1 503.7,655.0 497.4,659.5 486.6,656.8 490.2,650.5" fill="none" stroke="#1a1a1a" stroke-width="1.1" stroke-linejoin="round" />
<path d="M436.0,377.0 L413.0,370.5 M436.0,377.0 L463.0,383.5 M436.0,377.0 L416.0,390.5" stroke="#2a2a2a" stroke-width="8.4" stroke-linecap="butt" fill="none"/>
<path d="M436.0,377.0 L413.0,370.5 M436.0,377.0 L463.0,383.5 M436.0,377.0 L416.0,390.5" stroke="#fbfbfb" stroke-width="6.4" stroke-linecap="butt" fill="none"/>
<path d="M436.0,377.0 L413.0,370.5 M436.0,377.0 L463.0,383.5 M436.0,377.0 L416.0,390.5" stroke="#666" stroke-width="4.6" stroke-linecap="butt" fill="none"/>
<path d="M436.0,377.0 L413.0,370.5 M436.0,377.0 L463.0,383.5 M436.0,377.0 L416.0,390.5" stroke="#f6f6f6" stroke-width="3.4" stroke-linecap="butt" fill="none"/>
<clipPath id="c15"><polygon points="397.6,350.1 403.0,347.4 420.1,351.0 421.0,362.7 413.8,368.1 403.0,363.6 405.7,358.2 397.6,353.7"/></clipPath>
<polygon points="397.6,350.1 403.0,347.4 420.1,351.0 421.0,362.7 413.8,368.1 403.0,363.6 405.7,358.2 397.6,353.7" fill="#c6c6c6" stroke="none" stroke-width="0" stroke-linejoin="round" />
<g clip-path="url(#c15)"><line x1="371.0" y1="339.6" x2="448.0" y2="361.2" stroke="#2e2e2e" stroke-width="1.15"/><line x1="369.8" y1="344.0" x2="446.8" y2="365.6" stroke="#2e2e2e" stroke-width="1.15"/><line x1="368.6" y1="348.4" x2="445.6" y2="369.9" stroke="#2e2e2e" stroke-width="1.15"/><line x1="367.3" y1="352.7" x2="444.4" y2="374.3" stroke="#2e2e2e" stroke-width="1.15"/></g>
<polygon points="397.6,350.1 403.0,347.4 420.1,351.0 421.0,362.7 413.8,368.1 403.0,363.6 405.7,358.2 397.6,353.7" fill="none" stroke="#1a1a1a" stroke-width="1.1" stroke-linejoin="round" />
<polygon points="418.3,349.2 458.8,361.8 459.7,377.1 420.0,363.0" fill="#fafafa" stroke="#333" stroke-width="0.9" stroke-linejoin="round" />
<polygon points="418.3,349.2 458.8,361.8 458.8,365.8 418.8,353.2" fill="#b0b0b0" stroke="#444" stroke-width="0.6" stroke-linejoin="round" />
<polyline points="420.0,357.0 459.0,369.5" fill="none" stroke="#777" stroke-width="0.6" stroke-linejoin="round"/>
<clipPath id="c16"><polygon points="458.8,364.5 473.2,369.0 471.4,377.1 466.0,382.5 453.4,379.8 458.8,376.2"/></clipPath>
<polygon points="458.8,364.5 473.2,369.0 471.4,377.1 466.0,382.5 453.4,379.8 458.8,376.2" fill="#c6c6c6" stroke="none" stroke-width="0" stroke-linejoin="round" />
<g clip-path="url(#c16)"><line x1="426.9" y1="357.7" x2="503.9" y2="379.2" stroke="#2e2e2e" stroke-width="1.15"/><line x1="425.8" y1="361.6" x2="502.8" y2="383.1" stroke="#2e2e2e" stroke-width="1.15"/><line x1="424.7" y1="365.5" x2="501.7" y2="387.0" stroke="#2e2e2e" stroke-width="1.15"/><line x1="423.6" y1="369.4" x2="500.6" y2="390.9" stroke="#2e2e2e" stroke-width="1.15"/></g>
<polygon points="458.8,364.5 473.2,369.0 471.4,377.1 466.0,382.5 453.4,379.8 458.8,376.2" fill="none" stroke="#1a1a1a" stroke-width="1.1" stroke-linejoin="round" />
<clipPath id="c17"><polygon points="403.9,381.6 412.9,376.2 415.6,382.5 423.7,385.2 415.6,391.5 407.5,386.1"/></clipPath>
<polygon points="403.9,381.6 412.9,376.2 415.6,382.5 423.7,385.2 415.6,391.5 407.5,386.1" fill="#c6c6c6" stroke="none" stroke-width="0" stroke-linejoin="round" />
<g clip-path="url(#c17)"><line x1="376.2" y1="367.7" x2="453.2" y2="389.3" stroke="#2e2e2e" stroke-width="1.15"/><line x1="375.2" y1="371.1" x2="452.3" y2="392.7" stroke="#2e2e2e" stroke-width="1.15"/><line x1="374.3" y1="374.5" x2="451.3" y2="396.0" stroke="#2e2e2e" stroke-width="1.15"/><line x1="373.3" y1="377.8" x2="450.4" y2="399.4" stroke="#2e2e2e" stroke-width="1.15"/></g>
<polygon points="403.9,381.6 412.9,376.2 415.6,382.5 423.7,385.2 415.6,391.5 407.5,386.1" fill="none" stroke="#1a1a1a" stroke-width="1.1" stroke-linejoin="round" />
<path d="M730.0,463.0 L707.0,456.5 M730.0,463.0 L757.0,469.5 M730.0,463.0 L710.0,476.5" stroke="#2a2a2a" stroke-width="8.4" stroke-linecap="butt" fill="none"/>
<path d="M730.0,463.0 L707.0,456.5 M730.0,463.0 L757.0,469.5 M730.0,463.0 L710.0,476.5" stroke="#fbfbfb" stroke-width="6.4" stroke-linecap="butt" fill="none"/>
<path d="M730.0,463.0 L707.0,456.5 M730.0,463.0 L757.0,469.5 M730.0,463.0 L710.0,476.5" stroke="#666" stroke-width="4.6" stroke-linecap="butt" fill="none"/>
<path d="M730.0,463.0 L707.0,456.5 M730.0,463.0 L757.0,469.5 M730.0,463.0 L710.0,476.5" stroke="#f6f6f6" stroke-width="3.4" stroke-linecap="butt" fill="none"/>
<clipPath id="c18"><polygon points="691.6,436.1 697.0,433.4 714.1,437.0 715.0,448.7 707.8,454.1 697.0,449.6 699.7,444.2 691.6,439.7"/></clipPath>
<polygon points="691.6,436.1 697.0,433.4 714.1,437.0 715.0,448.7 707.8,454.1 697.0,449.6 699.7,444.2 691.6,439.7" fill="#c6c6c6" stroke="none" stroke-width="0" stroke-linejoin="round" />
<g clip-path="url(#c18)"><line x1="665.0" y1="425.6" x2="742.0" y2="447.2" stroke="#2e2e2e" stroke-width="1.15"/><line x1="663.8" y1="430.0" x2="740.8" y2="451.6" stroke="#2e2e2e" stroke-width="1.15"/><line x1="662.6" y1="434.4" x2="739.6" y2="455.9" stroke="#2e2e2e" stroke-width="1.15"/><line x1="661.3" y1="438.7" x2="738.4" y2="460.3" stroke="#2e2e2e" stroke-width="1.15"/></g>
<polygon points="691.6,436.1 697.0,433.4 714.1,437.0 715.0,448.7 707.8,454.1 697.0,449.6 699.7,444.2 691.6,439.7" fill="none" stroke="#1a1a1a" stroke-width="1.1" stroke-linejoin="round" />
<polygon points="712.3,435.2 752.8,447.8 753.7,463.1 714.0,449.0" fill="#fafafa" stroke="#333" stroke-width="0.9" stroke-linejoin="round" />
<polygon points="712.3,435.2 752.8,447.8 752.8,451.8 712.8,439.2" fill="#b0b0b0" stroke="#444" stroke-width="0.6" stroke-linejoin="round" />
<polyline points="714.0,443.0 753.0,455.5" fill="none" stroke="#777" stroke-width="0.6" stroke-linejoin="round"/>
<clipPath id="c19"><polygon points="752.8,450.5 767.2,455.0 765.4,463.1 760.0,468.5 747.4,465.8 752.8,462.2"/></clipPath>
<polygon points="752.8,450.5 767.2,455.0 765.4,463.1 760.0,468.5 747.4,465.8 752.8,462.2" fill="#c6c6c6" stroke="none" stroke-width="0" stroke-linejoin="round" />
<g clip-path="url(#c19)"><line x1="720.9" y1="443.7" x2="797.9" y2="465.2" stroke="#2e2e2e" stroke-width="1.15"/><line x1="719.8" y1="447.6" x2="796.8" y2="469.1" stroke="#2e2e2e" stroke-width="1.15"/><line x1="718.7" y1="451.5" x2="795.7" y2="473.0" stroke="#2e2e2e" stroke-width="1.15"/><line x1="717.6" y1="455.4" x2="794.6" y2="476.9" stroke="#2e2e2e" stroke-width="1.15"/></g>
<polygon points="752.8,450.5 767.2,455.0 765.4,463.1 760.0,468.5 747.4,465.8 752.8,462.2" fill="none" stroke="#1a1a1a" stroke-width="1.1" stroke-linejoin="round" />
<clipPath id="c20"><polygon points="697.9,467.6 706.9,462.2 709.6,468.5 717.7,471.2 709.6,477.5 701.5,472.1"/></clipPath>
<polygon points="697.9,467.6 706.9,462.2 709.6,468.5 717.7,471.2 709.6,477.5 701.5,472.1" fill="#c6c6c6" stroke="none" stroke-width="0" stroke-linejoin="round" />
<g clip-path="url(#c20)"><line x1="670.2" y1="453.7" x2="747.2" y2="475.3" stroke="#2e2e2e" stroke-width="1.15"/><line x1="669.2" y1="457.1" x2="746.3" y2="478.7" stroke="#2e2e2e" stroke-width="1.15"/><line x1="668.3" y1="460.5" x2="745.3" y2="482.0" stroke="#2e2e2e" stroke-width="1.15"/><line x1="667.3" y1="463.8" x2="744.4" y2="485.4" stroke="#2e2e2e" stroke-width="1.15"/></g>
<polygon points="697.9,467.6 706.9,462.2 709.6,468.5 717.7,471.2 709.6,477.5 701.5,472.1" fill="none" stroke="#1a1a1a" stroke-width="1.1" stroke-linejoin="round" />
<polygon points="258.1,308.5 267.0,301.9 291.7,310.2 301.6,313.5 302.1,321.2 300.5,326.1 285.1,327.8 260.9,321.2 258.7,311.8" fill="#fbfbfb" stroke="#1a1a1a" stroke-width="1.1" stroke-linejoin="round" />
<polyline points="267.0,301.9 269.1,303.6 269.1,314.0 260.9,321.2" fill="none" stroke="#222" stroke-width="1.0" stroke-linejoin="round"/>
<polyline points="269.1,303.6 291.7,310.8" fill="none" stroke="#333" stroke-width="0.9" stroke-linejoin="round"/>
<polygon points="269.6,304.3 271.1,304.8 271.1,313.3 269.6,313.8" fill="#888" stroke="none" stroke-width="1.0" stroke-linejoin="round" />
<polyline points="270.3,313.7 293.9,320.3" fill="none" stroke="#111" stroke-width="1.4" stroke-linejoin="round"/>
<polyline points="262.1,321.3 285.1,326.3" fill="none" stroke="#555" stroke-width="0.8" stroke-linejoin="round"/>
<polygon points="291.7,310.2 301.6,313.5 302.1,321.2 293.1,319.8" fill="#e0e0e0" stroke="#222" stroke-width="0.9" stroke-linejoin="round" />
<polyline points="295.1,311.8 295.6,320.3" fill="none" stroke="#444" stroke-width="0.8" stroke-linejoin="round"/>
<polyline points="298.1,312.8 298.6,320.8" fill="none" stroke="#444" stroke-width="0.8" stroke-linejoin="round"/>
<polygon points="260.6,311.3 264.6,308.3 265.1,310.3 261.6,313.3" fill="#fff" stroke="#333" stroke-width="0.8" stroke-linejoin="round" />
<polygon points="283.1,323.3 286.6,322.8 286.6,325.1 283.1,325.6" fill="#111" stroke="none" stroke-width="1.0" stroke-linejoin="round" />
<polygon points="671.0,381.2 679.9,374.6 704.6,382.9 714.5,386.2 715.0,393.9 713.4,398.8 698.0,400.5 673.8,393.9 671.6,384.5" fill="#fbfbfb" stroke="#1a1a1a" stroke-width="1.1" stroke-linejoin="round" />
<polyline points="679.9,374.6 682.0,376.3 682.0,386.7 673.8,393.9" fill="none" stroke="#222" stroke-width="1.0" stroke-linejoin="round"/>
<polyline points="682.0,376.3 704.6,383.5" fill="none" stroke="#333" stroke-width="0.9" stroke-linejoin="round"/>
<polygon points="682.5,377.0 684.0,377.5 684.0,386.0 682.5,386.5" fill="#888" stroke="none" stroke-width="1.0" stroke-linejoin="round" />
<polyline points="683.2,386.4 706.8,393.0" fill="none" stroke="#111" stroke-width="1.4" stroke-linejoin="round"/>
<polyline points="675.0,394.0 698.0,399.0" fill="none" stroke="#555" stroke-width="0.8" stroke-linejoin="round"/>
<polygon points="704.6,382.9 714.5,386.2 715.0,393.9 706.0,392.5" fill="#e0e0e0" stroke="#222" stroke-width="0.9" stroke-linejoin="round" />
<polyline points="708.0,384.5 708.5,393.0" fill="none" stroke="#444" stroke-width="0.8" stroke-linejoin="round"/>
<polyline points="711.0,385.5 711.5,393.5" fill="none" stroke="#444" stroke-width="0.8" stroke-linejoin="round"/>
<polygon points="673.5,384.0 677.5,381.0 678.0,383.0 674.5,386.0" fill="#fff" stroke="#333" stroke-width="0.8" stroke-linejoin="round" />
<polygon points="696.0,396.0 699.5,395.5 699.5,397.8 696.0,398.3" fill="#111" stroke="none" stroke-width="1.0" stroke-linejoin="round" />
<polygon points="565.9,397.0 570.8,394.8 596.9,401.5 597.4,405.1 598.3,412.8 594.2,417.3 591.5,421.3 572.6,415.0 572.2,407.8 565.9,401.0" fill="#f6f6f6" stroke="#222" stroke-width="1.1" stroke-linejoin="round" />
<polygon points="571.0,397.5 597.2,404.0 597.4,410.0 575.5,405.0" fill="#c8c8c8" stroke="none" stroke-width="0" stroke-linejoin="round" />
<polyline points="575.0,401.0 597.0,406.5" fill="none" stroke="#666" stroke-width="0.8" stroke-linejoin="round"/>
<polygon points="570.8,394.8 596.9,401.5 597.2,404.0 571.0,397.5" fill="#9a9a9a" stroke="#333" stroke-width="0.7" stroke-linejoin="round" />
<polygon points="565.9,397.0 570.8,394.8 575.0,396.0 575.5,405.0 572.2,407.8 565.9,401.0" fill="#bbb" stroke="#222" stroke-width="0.9" stroke-linejoin="round" />
<polyline points="567.0,399.5 574.0,401.5" fill="none" stroke="#333" stroke-width="0.9" stroke-linejoin="round"/>
<polyline points="575.5,405.0 597.4,410.0" fill="none" stroke="#333" stroke-width="0.9" stroke-linejoin="round"/>
<polygon points="584.0,401.5 589.5,403.0 589.0,405.5 583.5,404.0" fill="#fff" stroke="#111" stroke-width="1.0" stroke-linejoin="round" />
<polyline points="592.0,404.0 596.0,405.0" fill="none" stroke="#444" stroke-width="0.8" stroke-linejoin="round"/>
<polyline points="574.0,412.0 593.0,417.0" fill="none" stroke="#999" stroke-width="0.7" stroke-linejoin="round"/>
<polygon points="584.0,418.0 592.0,420.0 591.5,421.8 584.0,419.8" fill="#222" stroke="none" stroke-width="1.0" stroke-linejoin="round" />
<polygon points="310.6,589.7 315.5,587.5 341.6,594.2 342.1,597.8 343.0,605.5 338.9,610.0 336.2,614.0 317.3,607.7 316.9,600.5 310.6,593.7" fill="#f6f6f6" stroke="#222" stroke-width="1.1" stroke-linejoin="round" />
<polygon points="315.7,590.2 341.9,596.7 342.1,602.7 320.2,597.7" fill="#c8c8c8" stroke="none" stroke-width="0" stroke-linejoin="round" />
<polyline points="319.7,593.7 341.7,599.2" fill="none" stroke="#666" stroke-width="0.8" stroke-linejoin="round"/>
<polygon points="315.5,587.5 341.6,594.2 341.9,596.7 315.7,590.2" fill="#9a9a9a" stroke="#333" stroke-width="0.7" stroke-linejoin="round" />
<polygon points="310.6,589.7 315.5,587.5 319.7,588.7 320.2,597.7 316.9,600.5 310.6,593.7" fill="#bbb" stroke="#222" stroke-width="0.9" stroke-linejoin="round" />
<polyline points="311.7,592.2 318.7,594.2" fill="none" stroke="#333" stroke-width="0.9" stroke-linejoin="round"/>
<polyline points="320.2,597.7 342.1,602.7" fill="none" stroke="#333" stroke-width="0.9" stroke-linejoin="round"/>
<polygon points="328.7,594.2 334.2,595.7 333.7,598.2 328.2,596.7" fill="#fff" stroke="#111" stroke-width="1.0" stroke-linejoin="round" />
<polyline points="336.7,596.7 340.7,597.7" fill="none" stroke="#444" stroke-width="0.8" stroke-linejoin="round"/>
<polyline points="318.7,604.7 337.7,609.7" fill="none" stroke="#999" stroke-width="0.7" stroke-linejoin="round"/>
<polygon points="328.7,610.7 336.7,612.7 336.2,614.5 328.7,612.5" fill="#222" stroke="none" stroke-width="1.0" stroke-linejoin="round" />
<polygon points="437.9,495.8 442.8,493.6 468.9,500.3 469.4,503.9 470.3,511.6 466.2,516.1 463.5,520.1 444.6,513.8 444.2,506.6 437.9,499.8" fill="#f6f6f6" stroke="#222" stroke-width="1.1" stroke-linejoin="round" />
<polygon points="443.0,496.3 469.2,502.8 469.4,508.8 447.5,503.8" fill="#c8c8c8" stroke="none" stroke-width="0" stroke-linejoin="round" />
<polyline points="447.0,499.8 469.0,505.3" fill="none" stroke="#666" stroke-width="0.8" stroke-linejoin="round"/>
<polygon points="442.8,493.6 468.9,500.3 469.2,502.8 443.0,496.3" fill="#9a9a9a" stroke="#333" stroke-width="0.7" stroke-linejoin="round" />
<polygon points="437.9,495.8 442.8,493.6 447.0,494.8 447.5,503.8 444.2,506.6 437.9,499.8" fill="#bbb" stroke="#222" stroke-width="0.9" stroke-linejoin="round" />
<polyline points="439.0,498.3 446.0,500.3" fill="none" stroke="#333" stroke-width="0.9" stroke-linejoin="round"/>
<polyline points="447.5,503.8 469.4,508.8" fill="none" stroke="#333" stroke-width="0.9" stroke-linejoin="round"/>
<polygon points="456.0,500.3 461.5,501.8 461.0,504.3 455.5,502.8" fill="#fff" stroke="#111" stroke-width="1.0" stroke-linejoin="round" />
<polyline points="464.0,502.8 468.0,503.8" fill="none" stroke="#444" stroke-width="0.8" stroke-linejoin="round"/>
<polyline points="446.0,510.8 465.0,515.8" fill="none" stroke="#999" stroke-width="0.7" stroke-linejoin="round"/>
<polygon points="456.0,516.8 464.0,518.8 463.5,520.6 456.0,518.6" fill="#222" stroke="none" stroke-width="1.0" stroke-linejoin="round" />
<polygon points="799.6,585.2 827.2,570.2 834.4,570.2 836.8,573.2 834.4,578.0 833.2,584.0 834.4,587.0 827.2,591.2 814.0,597.8 803.2,594.8 804.4,591.8 799.6,587.0" fill="#f6f6f6" stroke="#222" stroke-width="1.1" stroke-linejoin="round" />
<polygon points="799.6,585.2 827.2,570.2 829.0,572.5 801.0,587.5" fill="#9a9a9a" stroke="#333" stroke-width="0.7" stroke-linejoin="round" />
<polygon points="827.2,570.2 834.4,570.2 836.8,573.2 834.4,578.0 829.0,579.0 827.0,574.0" fill="#bbb" stroke="#222" stroke-width="0.9" stroke-linejoin="round" />
<polygon points="801.0,587.5 829.0,572.5 829.0,579.0 804.0,590.0" fill="#c8c8c8" stroke="none" stroke-width="0" stroke-linejoin="round" />
<polyline points="804.0,590.0 830.0,576.0" fill="none" stroke="#333" stroke-width="0.9" stroke-linejoin="round"/>
<polygon points="810.0,586.0 815.0,583.5 815.5,585.5 810.5,588.0" fill="#fff" stroke="#111" stroke-width="1.0" stroke-linejoin="round" />
<polyline points="808.0,594.0 831.0,582.0" fill="none" stroke="#999" stroke-width="0.7" stroke-linejoin="round"/>
<polygon points="18.0,497.2 35.4,491.8 36.0,499.6 19.8,500.8" fill="#f6f6f6" stroke="#444" stroke-width="0.8" stroke-linejoin="round" />
<polygon points="1.8,500.8 28.2,504.4 28.2,521.2 1.8,512.8" fill="#f8f8f8" stroke="#222" stroke-width="1.1" stroke-linejoin="round" />
<polyline points="2.4,511.6 28.2,519.4" fill="none" stroke="#888" stroke-width="0.9" stroke-linejoin="round"/>
<polygon points="1.8,500.2 25.2,487.6 30.0,490.0 9.0,500.8 28.2,503.2 28.2,504.4" fill="#f0f0f0" stroke="#222" stroke-width="1.0" stroke-linejoin="round" />
<polyline points="5.4,500.5 26.4,489.1" fill="none" stroke="#666" stroke-width="0.8" stroke-linejoin="round"/>
<polyline points="5.4,500.5 28.2,503.7" fill="none" stroke="#666" stroke-width="0.8" stroke-linejoin="round"/>
<clipPath id="c21"><polygon points="24.0,487.6 34.2,484.0 41.4,487.0 45.6,494.2 36.0,500.2 34.8,492.4 25.8,490.6"/></clipPath>
<polygon points="24.0,487.6 34.2,484.0 41.4,487.0 45.6,494.2 36.0,500.2 34.8,492.4 25.8,490.6" fill="#c6c6c6" stroke="none" stroke-width="0" stroke-linejoin="round" />
<g clip-path="url(#c21)"><line x1="-2.7" y1="475.6" x2="74.3" y2="497.2" stroke="#2e2e2e" stroke-width="1.15"/><line x1="-3.8" y1="479.3" x2="73.3" y2="500.8" stroke="#2e2e2e" stroke-width="1.15"/><line x1="-4.8" y1="482.9" x2="72.3" y2="504.5" stroke="#2e2e2e" stroke-width="1.15"/><line x1="-5.8" y1="486.5" x2="71.2" y2="508.1" stroke="#2e2e2e" stroke-width="1.15"/></g>
<polygon points="24.0,487.6 34.2,484.0 41.4,487.0 45.6,494.2 36.0,500.2 34.8,492.4 25.8,490.6" fill="none" stroke="#1a1a1a" stroke-width="1.1" stroke-linejoin="round" />
<clipPath id="c22"><polygon points="28.2,503.2 37.8,502.0 45.6,505.6 45.6,511.6 49.2,516.4 49.8,520.0 45.6,523.6 28.2,520.6"/></clipPath>
<polygon points="28.2,503.2 37.8,502.0 45.6,505.6 45.6,511.6 49.2,516.4 49.8,520.0 45.6,523.6 28.2,520.6" fill="#c6c6c6" stroke="none" stroke-width="0" stroke-linejoin="round" />
<g clip-path="url(#c22)"><line x1="4.7" y1="494.9" x2="81.8" y2="516.4" stroke="#2e2e2e" stroke-width="1.15"/><line x1="3.6" y1="498.8" x2="80.7" y2="520.4" stroke="#2e2e2e" stroke-width="1.15"/><line x1="2.5" y1="502.8" x2="79.6" y2="524.3" stroke="#2e2e2e" stroke-width="1.15"/><line x1="1.4" y1="506.7" x2="78.5" y2="528.3" stroke="#2e2e2e" stroke-width="1.15"/><line x1="0.3" y1="510.7" x2="77.4" y2="532.2" stroke="#2e2e2e" stroke-width="1.15"/></g>
<polygon points="28.2,503.2 37.8,502.0 45.6,505.6 45.6,511.6 49.2,516.4 49.8,520.0 45.6,523.6 28.2,520.6" fill="none" stroke="#1a1a1a" stroke-width="1.1" stroke-linejoin="round" />
<polygon points="869.6,502.9 905.3,504.3 880.1,518.3 873.1,520.4 871.0,515.5 879.4,513.4 889.2,506.4 871.0,506.4" fill="#f6f6f6" stroke="#222" stroke-width="1.0" stroke-linejoin="round" />
<polyline points="872.4,504.3 899.0,505.0 878.7,516.2" fill="none" stroke="#666" stroke-width="0.8" stroke-linejoin="round"/>
<clipPath id="c23"><polygon points="854.2,482.6 861.2,477.7 877.3,482.6 878.7,500.1 873.8,500.8 867.5,502.2 859.1,497.3 864.0,492.4 854.9,486.1"/></clipPath>
<polygon points="854.2,482.6 861.2,477.7 877.3,482.6 878.7,500.1 873.8,500.8 867.5,502.2 859.1,497.3 864.0,492.4 854.9,486.1" fill="#c6c6c6" stroke="none" stroke-width="0" stroke-linejoin="round" />
<g clip-path="url(#c23)"><line x1="829.6" y1="471.7" x2="906.6" y2="493.3" stroke="#2e2e2e" stroke-width="1.15"/><line x1="828.1" y1="477.0" x2="905.1" y2="498.5" stroke="#2e2e2e" stroke-width="1.15"/><line x1="826.6" y1="482.2" x2="903.7" y2="503.8" stroke="#2e2e2e" stroke-width="1.15"/><line x1="825.2" y1="487.5" x2="902.2" y2="509.1" stroke="#2e2e2e" stroke-width="1.15"/></g>
<polygon points="854.2,482.6 861.2,477.7 877.3,482.6 878.7,500.1 873.8,500.8 867.5,502.2 859.1,497.3 864.0,492.4 854.9,486.1" fill="none" stroke="#1a1a1a" stroke-width="1.1" stroke-linejoin="round" />
<polygon points="877.3,480.5 906.0,489.6 906.7,503.6 878.0,496.6" fill="#fbfbfb" stroke="#1a1a1a" stroke-width="1.1" stroke-linejoin="round" />
<polyline points="878.0,484.0 906.0,492.4" fill="none" stroke="#555" stroke-width="0.8" stroke-linejoin="round"/>
<polyline points="878.0,496.6 906.7,503.6" fill="none" stroke="#222" stroke-width="1.0" stroke-linejoin="round"/>
<clipPath id="c24"><polygon points="859.1,509.9 868.9,503.6 871.0,509.2 879.4,514.8 871.0,520.4 864.0,517.6"/></clipPath>
<polygon points="859.1,509.9 868.9,503.6 871.0,509.2 879.4,514.8 871.0,520.4 864.0,517.6" fill="#c6c6c6" stroke="none" stroke-width="0" stroke-linejoin="round" />
<g clip-path="url(#c24)"><line x1="832.2" y1="495.3" x2="909.2" y2="516.9" stroke="#2e2e2e" stroke-width="1.15"/><line x1="831.1" y1="499.1" x2="908.2" y2="520.7" stroke="#2e2e2e" stroke-width="1.15"/><line x1="830.1" y1="502.9" x2="907.1" y2="524.4" stroke="#2e2e2e" stroke-width="1.15"/><line x1="829.0" y1="506.6" x2="906.1" y2="528.2" stroke="#2e2e2e" stroke-width="1.15"/></g>
<polygon points="859.1,509.9 868.9,503.6 871.0,509.2 879.4,514.8 871.0,520.4 864.0,517.6" fill="none" stroke="#1a1a1a" stroke-width="1.1" stroke-linejoin="round" />
<polygon points="961.6,483.6 977.8,480.0 988.0,487.8 970.0,498.0 961.0,496.8" fill="#d4d4d4" stroke="#222" stroke-width="1.0" stroke-linejoin="round" />
<polygon points="956.8,489.0 961.6,486.0 961.0,496.8 965.8,500.4 960.4,501.6 957.4,499.8" fill="#f4f4f4" stroke="#444" stroke-width="0.8" stroke-linejoin="round" />
<polyline points="961.4,487.6 980.9,482.3" fill="none" stroke="#444" stroke-width="1.0" stroke-linejoin="round"/>
<polyline points="961.3,490.2 982.9,483.9" fill="none" stroke="#444" stroke-width="1.0" stroke-linejoin="round"/>
<polyline points="961.2,492.8 984.9,485.5" fill="none" stroke="#444" stroke-width="1.0" stroke-linejoin="round"/>
<polygon points="946.6,458.4 950.2,455.4 961.0,457.8 985.0,464.4 985.6,478.8 977.2,481.8 956.2,476.4 947.8,472.8" fill="#fbfbfb" stroke="#1a1a1a" stroke-width="1.1" stroke-linejoin="round" />
<polygon points="963.4,469.8 985.0,476.4 985.3,478.8 964.0,473.4" fill="#bbb" stroke="#333" stroke-width="0.8" stroke-linejoin="round" />
<polyline points="961.0,457.8 962.8,474.0" fill="none" stroke="#222" stroke-width="1.1" stroke-linejoin="round"/>
<polyline points="963.4,469.8 985.0,476.4" fill="none" stroke="#222" stroke-width="1.0" stroke-linejoin="round"/>
<clipPath id="c25"><polygon points="946.6,458.4 950.2,455.4 961.0,457.8 962.8,474.0 956.2,476.4 947.8,472.8"/></clipPath>
<polygon points="946.6,458.4 950.2,455.4 961.0,457.8 962.8,474.0 956.2,476.4 947.8,472.8" fill="#c6c6c6" stroke="none" stroke-width="0" stroke-linejoin="round" />
<g clip-path="url(#c25)"><line x1="917.5" y1="448.1" x2="994.5" y2="469.7" stroke="#2e2e2e" stroke-width="1.15"/><line x1="916.2" y1="452.7" x2="993.3" y2="474.3" stroke="#2e2e2e" stroke-width="1.15"/><line x1="914.9" y1="457.4" x2="992.0" y2="478.9" stroke="#2e2e2e" stroke-width="1.15"/><line x1="913.6" y1="462.0" x2="990.7" y2="483.6" stroke="#2e2e2e" stroke-width="1.15"/></g>
<polygon points="946.6,458.4 950.2,455.4 961.0,457.8 962.8,474.0 956.2,476.4 947.8,472.8" fill="none" stroke="#1a1a1a" stroke-width="1.1" stroke-linejoin="round" />
<polygon points="988.0,466.2 996.4,467.4 998.8,469.8 998.8,483.6 994.0,486.0 988.0,483.6" fill="#fbfbfb" stroke="#222" stroke-width="1.0" stroke-linejoin="round" />
<polyline points="988.0,474.6 998.8,475.8" fill="none" stroke="#333" stroke-width="0.9" stroke-linejoin="round"/>
<polyline points="985.6,465.0 988.0,466.2" fill="none" stroke="#333" stroke-width="0.9" stroke-linejoin="round"/>
<ellipse cx="992.2" cy="483.0" rx="4.5" ry="2.8" fill="#fff" stroke="#333" stroke-width="0.9"/>
<ellipse cx="992.2" cy="483.0" rx="1.8" ry="1.1" fill="#111"/>
<polygon points="593.4,687.3 629.1,696.8 637.5,701.0 645.9,701.0 677.4,681.0 668.0,684.0 646.0,695.0 634.0,696.0 612.0,690.0" fill="#e8e8e8" stroke="#333" stroke-width="0.9" stroke-linejoin="round" />
<polygon points="611.3,675.8 634.4,682.1 634.4,695.7 612.3,690.5" fill="#f7f7f7" stroke="#333" stroke-width="0.9" stroke-linejoin="round" />
<polygon points="611.3,675.8 634.4,682.1 634.4,685.0 611.5,679.0" fill="#aaa" stroke="#444" stroke-width="0.6" stroke-linejoin="round" />
<polygon points="634.4,682.1 645.9,681.0 645.9,694.7 634.4,695.7" fill="#e0e0e0" stroke="#333" stroke-width="0.9" stroke-linejoin="round" />
<polygon points="645.9,681.0 664.8,671.6 668.0,683.0 645.9,694.7" fill="#f7f7f7" stroke="#333" stroke-width="0.9" stroke-linejoin="round" />
<polygon points="645.9,681.0 664.8,671.6 665.0,674.5 646.0,684.0" fill="#aaa" stroke="#444" stroke-width="0.6" stroke-linejoin="round" />
<clipPath id="c26"><polygon points="590.3,675.8 594.5,673.7 611.3,675.8 612.3,690.5 606.0,691.5 593.4,687.3 595.5,681.0 590.3,678.9"/></clipPath>
<polygon points="590.3,675.8 594.5,673.7 611.3,675.8 612.3,690.5 606.0,691.5 593.4,687.3 595.5,681.0 590.3,678.9" fill="#c6c6c6" stroke="none" stroke-width="0" stroke-linejoin="round" />
<g clip-path="url(#c26)"><line x1="562.6" y1="664.3" x2="639.6" y2="685.9" stroke="#2e2e2e" stroke-width="1.15"/><line x1="561.4" y1="668.3" x2="638.5" y2="689.9" stroke="#2e2e2e" stroke-width="1.15"/><line x1="560.3" y1="672.3" x2="637.4" y2="693.8" stroke="#2e2e2e" stroke-width="1.15"/><line x1="559.2" y1="676.3" x2="636.3" y2="697.8" stroke="#2e2e2e" stroke-width="1.15"/></g>
<polygon points="590.3,675.8 594.5,673.7 611.3,675.8 612.3,690.5 606.0,691.5 593.4,687.3 595.5,681.0 590.3,678.9" fill="none" stroke="#1a1a1a" stroke-width="1.1" stroke-linejoin="round" />
<clipPath id="c27"><polygon points="664.8,671.6 679.5,666.3 682.7,669.5 681.6,680.0 669.0,685.2 665.9,683.1"/></clipPath>
<polygon points="664.8,671.6 679.5,666.3 682.7,669.5 681.6,680.0 669.0,685.2 665.9,683.1" fill="#c6c6c6" stroke="none" stroke-width="0" stroke-linejoin="round" />
<g clip-path="url(#c27)"><line x1="637.5" y1="693.8" x2="702.4" y2="647.1" stroke="#2e2e2e" stroke-width="1.15"/><line x1="639.9" y1="697.2" x2="704.8" y2="650.5" stroke="#2e2e2e" stroke-width="1.15"/><line x1="642.4" y1="700.6" x2="707.3" y2="653.8" stroke="#2e2e2e" stroke-width="1.15"/><line x1="644.8" y1="703.9" x2="709.7" y2="657.2" stroke="#2e2e2e" stroke-width="1.15"/></g>
<polygon points="664.8,671.6 679.5,666.3 682.7,669.5 681.6,680.0 669.0,685.2 665.9,683.1" fill="none" stroke="#1a1a1a" stroke-width="1.1" stroke-linejoin="round" />
<ellipse cx="641.7" cy="698.3" rx="5" ry="2.8" fill="#f4f4f4" stroke="#444" stroke-width="0.8"/>
<polygon points="727.6,576.6 730.0,574.2 739.6,576.2 749.2,579.0 758.0,579.8 785.2,560.6 788.0,559.6 793.6,562.0 793.4,565.4 783.6,573.4 762.0,590.2 745.2,591.0 727.6,581.4" fill="#f2f2f2" stroke="#222" stroke-width="1.0" stroke-linejoin="round" />
<polygon points="745.2,581.4 758.0,579.8 765.2,588.6 760.4,591.8 745.2,591.0" fill="#9a9a9a" stroke="#333" stroke-width="0.8" stroke-linejoin="round" />
<polyline points="747.8,581.1 748.6,591.0" fill="none" stroke="#555" stroke-width="0.6" stroke-linejoin="round"/>
<polyline points="750.3,580.8 751.9,591.0" fill="none" stroke="#555" stroke-width="0.6" stroke-linejoin="round"/>
<polyline points="752.9,580.4 755.3,591.0" fill="none" stroke="#555" stroke-width="0.6" stroke-linejoin="round"/>
<polyline points="755.4,580.1 758.6,591.0" fill="none" stroke="#555" stroke-width="0.6" stroke-linejoin="round"/>
<polygon points="727.6,576.6 730.0,574.2 739.6,576.2 738.0,586.0 727.6,581.4" fill="#d8d8d8" stroke="#222" stroke-width="1.0" stroke-linejoin="round" />
<polyline points="729.0,578.5 738.5,580.5" fill="none" stroke="#333" stroke-width="0.9" stroke-linejoin="round"/>
<polygon points="778.0,566.0 785.2,560.6 788.0,559.6 793.6,562.0 793.4,565.4 783.6,573.4" fill="#d0d0d0" stroke="#222" stroke-width="1.0" stroke-linejoin="round" />
<polyline points="781.0,567.0 791.0,562.5" fill="none" stroke="#333" stroke-width="0.9" stroke-linejoin="round"/>
<polyline points="740.0,577.0 748.0,583.0 758.0,583.0" fill="none" stroke="#444" stroke-width="0.8" stroke-linejoin="round"/>
<polyline points="749.2,583.0 760.0,582.5 781.0,568.0" fill="none" stroke="#444" stroke-width="0.8" stroke-linejoin="round"/>
<polygon points="804.4,418.9 807.0,416.3 817.2,417.6 819.1,415.7 846.6,424.0 854.3,430.4 853.7,438.7 850.5,440.6 847.3,444.5 839.0,442.6 812.1,434.9 804.4,430.4" fill="#fbfbfb" stroke="#1a1a1a" stroke-width="1.1" stroke-linejoin="round" />
<clipPath id="c28"><polygon points="804.4,418.9 807.0,416.3 817.2,417.6 818.5,427.2 812.1,433.0 804.4,429.8"/></clipPath>
<polygon points="804.4,418.9 807.0,416.3 817.2,417.6 818.5,427.2 812.1,433.0 804.4,429.8" fill="#c6c6c6" stroke="none" stroke-width="0" stroke-linejoin="round" />
<g clip-path="url(#c28)"><line x1="773.6" y1="407.5" x2="850.6" y2="429.1" stroke="#2e2e2e" stroke-width="1.15"/><line x1="772.5" y1="411.4" x2="849.6" y2="433.0" stroke="#2e2e2e" stroke-width="1.15"/><line x1="771.4" y1="415.3" x2="848.5" y2="436.9" stroke="#2e2e2e" stroke-width="1.15"/><line x1="770.3" y1="419.2" x2="847.4" y2="440.7" stroke="#2e2e2e" stroke-width="1.15"/></g>
<polygon points="804.4,418.9 807.0,416.3 817.2,417.6 818.5,427.2 812.1,433.0 804.4,429.8" fill="none" stroke="#1a1a1a" stroke-width="1.1" stroke-linejoin="round" />
<polyline points="819.1,415.7 819.1,427.2" fill="none" stroke="#222" stroke-width="1.0" stroke-linejoin="round"/>
<polyline points="819.1,427.2 846.6,434.2" fill="none" stroke="#222" stroke-width="1.1" stroke-linejoin="round"/>
<polyline points="819.8,418.2 846.6,425.9" fill="none" stroke="#999" stroke-width="0.8" stroke-linejoin="round"/>
<polyline points="846.6,424.0 846.6,434.2 853.7,438.7" fill="none" stroke="#333" stroke-width="0.9" stroke-linejoin="round"/>
<polyline points="812.1,434.9 839.0,442.6" fill="none" stroke="#444" stroke-width="0.9" stroke-linejoin="round"/>
<polygon points="846.6,427.2 854.3,430.4 853.7,438.1 846.6,434.9" fill="#c8c8c8" stroke="#333" stroke-width="0.8" stroke-linejoin="round" />
<circle cx="817.8" cy="432.3" r="1.1" fill="#111"/>
<circle cx="839.6" cy="438.7" r="1.1" fill="#111"/>
<polygon points="825.5,434.2 830.0,435.5 829.4,436.8 824.9,435.5" fill="#fff" stroke="#444" stroke-width="0.7" stroke-linejoin="round" />
<polygon points="839.0,442.6 847.3,444.5 850.5,440.6 842.8,439.4" fill="#eee" stroke="#222" stroke-width="0.9" stroke-linejoin="round" />
<polygon points="112.0,429.5 117.5,426.5 118.0,434.5 121.0,439.0 117.0,437.0" fill="#ddd" stroke="#444" stroke-width="0.8" stroke-linejoin="round" />
<path d="M118,421 L128.5,424 Q132,429 131.5,436.5 L120,434 Z" fill="#f6f6f6" stroke="#222" stroke-width="1.1"/>
<polygon points="168.0,415.0 175.0,417.0 174.0,427.0 166.0,425.0" fill="#ddd" stroke="#444" stroke-width="0.8" stroke-linejoin="round" />
<path d="M166.2,408.4 L169.8,424 L160.2,428.8 Q156,422 157.2,416.8 Z" fill="#f6f6f6" stroke="#222" stroke-width="1.1"/>
<line x1="261.7" y1="282" x2="261.7" y2="300" stroke="#555" stroke-width="1.0"/>
<circle cx="261.7" cy="300.5" r="2.0" fill="#111"/>
<line x1="570.9" y1="354" x2="570.9" y2="392" stroke="#555" stroke-width="1.0"/>
<circle cx="570.9" cy="392" r="2.0" fill="#111"/>
<line x1="735" y1="342" x2="735" y2="386" stroke="#555" stroke-width="1.0"/>
<circle cx="735" cy="386.6" r="2.0" fill="#111"/>
<line x1="813.3" y1="360.2" x2="813.3" y2="410.8" stroke="#555" stroke-width="1.0"/>
<circle cx="813.3" cy="410.8" r="2.0" fill="#111"/>
<line x1="114.4" y1="393" x2="114.4" y2="417" stroke="#555" stroke-width="1.0"/>
<circle cx="114.4" cy="417" r="2.0" fill="#111"/>
<line x1="162.4" y1="578" x2="162.4" y2="605" stroke="#555" stroke-width="1.0"/>
<circle cx="162.4" cy="578" r="2.0" fill="#111"/>
<line x1="755.8" y1="552.5" x2="755.8" y2="576" stroke="#555" stroke-width="1.0"/>
<circle cx="755.8" cy="576" r="2.0" fill="#111"/>
<line x1="606.3" y1="563" x2="606.3" y2="598" stroke="#555" stroke-width="1.0"/>
<circle cx="606.3" cy="563" r="2.0" fill="#111"/>
<line x1="891.5" y1="516.8" x2="891.5" y2="568.8" stroke="#555" stroke-width="1.0"/>
<circle cx="891.5" cy="516.8" r="2.0" fill="#111"/>
<line x1="599.2" y1="693.3" x2="599.2" y2="714" stroke="#555" stroke-width="1.0"/>
<circle cx="599.2" cy="693.3" r="2.0" fill="#111"/>
</svg>
</body></html>
